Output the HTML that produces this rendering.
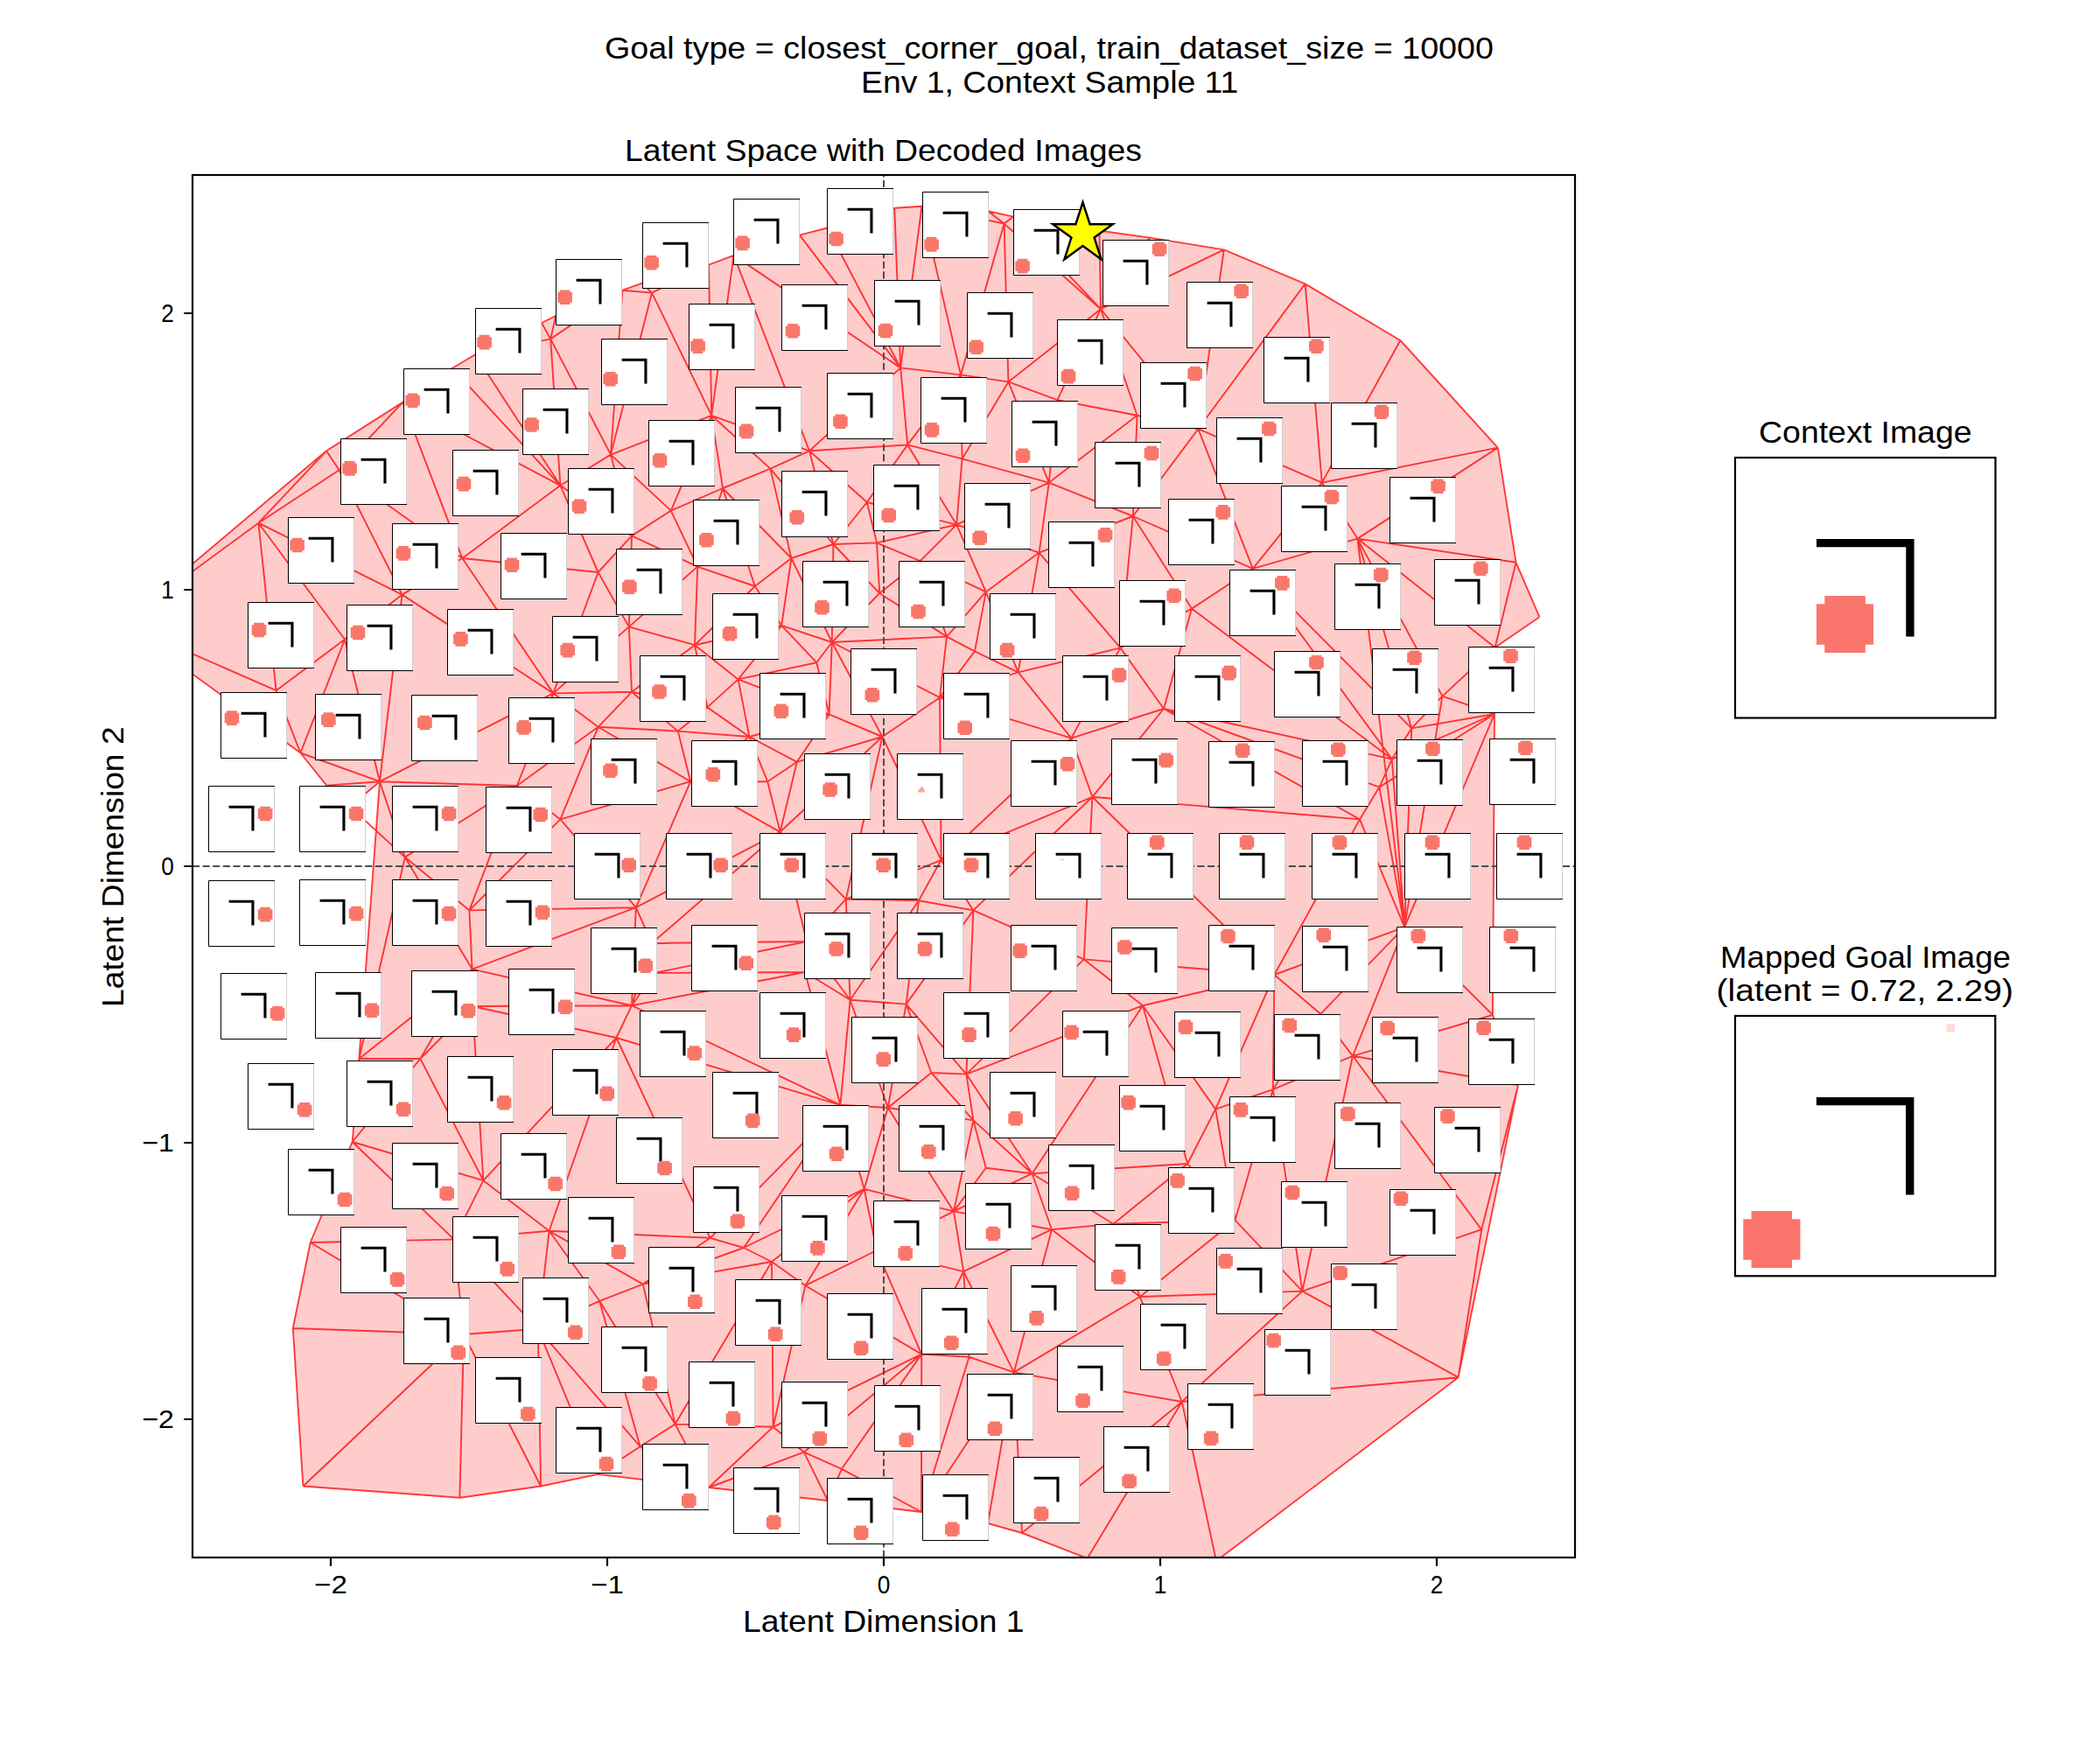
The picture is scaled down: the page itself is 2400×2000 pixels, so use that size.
<!DOCTYPE html><html><head><meta charset="utf-8"><style>html,body{margin:0;padding:0;background:#fff;width:2400px;height:2000px;overflow:hidden}svg{display:block}text{font-family:"Liberation Sans",sans-serif}</style></head><body><svg width="2400" height="2000" viewBox="0 0 2400 2000"><defs><clipPath id="ax"><rect x="220" y="200" width="1580" height="1580"/></clipPath></defs><rect width="2400" height="2000" fill="#fff"/><text x="1199" y="67" font-size="35" text-anchor="middle" textLength="1016" lengthAdjust="spacingAndGlyphs"  >Goal type = closest_corner_goal, train_dataset_size = 10000</text><text x="1199.7" y="105.7" font-size="35" text-anchor="middle" textLength="431.4" lengthAdjust="spacingAndGlyphs"  >Env 1, Context Sample 11</text><text x="1009.5" y="184" font-size="35" text-anchor="middle" textLength="591" lengthAdjust="spacingAndGlyphs"  >Latent Space with Decoded Images</text><g clip-path="url(#ax)"><polygon points="140,712 343.4,860.5 373.2,897.6 400,922 434,893.2 410.4,1210 402.7,1305 354.7,1420 334.8,1518 346.4,1698.5 525.4,1711.7 618.1,1698.5 683.4,1684.9 810,1700 946,1715 1053,1728 1129,1741 1168,1752 1242.6,1781 1390,1784 1666.6,1574.2 1735,1240 1706,1160 1708,816 1708.6,740 1759.4,705.2 1732.6,642.8 1711.8,511.6 1600.4,389 1491.6,324.4 1398.8,285.4 1314,271.6 1256.4,263.6 1158.2,247.6 1129,241.2 1053.5,235.8 1022.3,237.8 945.5,260.5 913.8,268.6 838.6,291.9 810,302.6 734,323.6 711.4,331.7 635.3,360.9 619,369 543,405.2 517,420.8 460.4,459.6 373,515.3" fill="#ffcccc" stroke="none"/><path d="M618.1 1698.5L614.8 1518.8M722 612.4L718.8 716.4M460.4 459.6L528.4 638M1362 695.6L1330 810M1152.4 436.4L1098 428.4M1022.3 237.8L1029.2 420.4M632.4 792.4L683.6 830.8M1509.2 1158.8L1605.2 1059.6M1152.4 436.4L1198.8 551.6M722 612.4L797.2 647.6M966.8 1027.6L922 1076M334.8 1518L346.4 1698.5M810 302.6L734 323.6M1198.8 551.6L1294.8 590M810 302.6L745 334.6M683.6 830.8L722 790.8M1546 1206.8L1454.8 1245.2M1035.6 1147.6L1064.4 1226M734 323.6L711.4 331.7M904.4 638L862.8 670M904.4 638L950.8 734M990.8 574L925 515.3M1064.4 1226L1104.4 1227.6M1248.4 910.8L1238.8 1096.4M946 1715L1053 1728M1248.4 910.8L1330 810M862.8 670L797.2 647.6M877.2 893.2L891.6 950.8M539.6 1107.6L722 1149.2M685.2 1486.8L614.8 1518.8M862.8 670L893.2 714.8M1053.2 1547.6L1107.6 1550.8M1053 1728L1129 1741M1053.2 1547.6L962 1678.8M460.4 459.6L373 515.3M525.4 1711.7L530 1525M722 1149.2L704.4 1186M1014.8 1266L1090 1384.4M1706 1160L1605.2 1059.6M1051.6 641.2L1005.2 678M1112.4 1040.4L1035.6 1147.6M1590.8 867.6L1576.4 899.6M920.4 1469.2L1002 1429M810 302.6L813.2 474.8M1711.8 511.6L1551.4 615.6M1454.8 1245.2L1488.4 1475.6M1005.2 678L1082 727.6M1090 1384.4L1101.2 1453.2M771.6 1627.6L883.6 1630.8M734.8 1467.6L882 1442M698 519.6L766.8 583.6M1706 1160L1708 816M462.8 979.6L539.6 1107.6M856.4 842L947.6 816.4M893.2 714.8L933.2 757.2M1074 797.2L1075.6 982.8M460.4 459.6L640.4 554.8M766.8 583.6L813.2 474.8M1509.2 1158.8L1546 1206.8M1411.6 1394.6L1488.4 1475.6M1198.8 551.6L1299.6 474.8M838.6 291.9L1029.2 420.4M1302.8 1482L1488.4 1475.6M1248.4 910.8L1112.4 1040.4M1306 1149.2L1179.6 1341.2M698 519.6L813.2 474.8M1735 1240L1546 1206.8M402.7 1305L518.8 1416.4M745 1078L922 1076M1029.2 420.4L925 515.3M704.4 1186L552.4 1349.2M1224.4 843.6L1075.6 982.8M1158.8 1568.4L1350.8 1602M1735 1240L1706 1160M1706 1160L1546 1206.8M1147.6 255.6L1152.4 436.4M920 1111L922 1076M774.8 835.6L856.4 842M627.6 1406.8L518.8 1416.4M1035.6 1147.6L1014.8 1266M1082 727.6L1074 797.2M1711.8 511.6L1510.8 551.6M1398.8 285.4L1258 353.2M683.6 654L722 612.4M1029.2 420.4L1098 428.4M640.4 936.4L536.4 1040.4M1090 1384.4L1202 1405.2M1208.4 457.2L1258 353.2M893.2 714.8L843.6 776.4M1272.4 1398.8L1411.6 1394.6M1053.5 235.8L1098 428.4M434 893.2L632.4 792.4M1600.4 389L1491.6 324.4M1093.2 599.6L1187.6 631.6M400 922L462.8 979.6M1258 353.2L1299.6 474.8M1666.6 1574.2L1693.2 1405.2M1411.6 1394.6L1302.8 1482M1224.4 843.6L1330 810M718.8 716.4L722 790.8M590.8 898L640.4 936.4M1491.6 324.4L1398.8 285.4M826 558L797.2 647.6M789.2 893.2L877.2 893.2M722 1149.2L745 1078M627.6 1406.8L734.8 1467.6M373.2 897.6L400 922M627.6 1406.8L811.6 1414.8M971.6 1142.8L960.4 1262.8M843.6 776.4L808.4 808.4M1431.8 649.8L1362 695.6M1168 1752L1158.8 1568.4M734.8 1467.6L685.2 1486.8M1306 1149.2L1389.2 1267.6M400 922L434 893.2M1002 620.4L1093.2 599.6M434 893.2L394 730.8M1053.5 235.8L1022.3 237.8M635.3 360.9L629.2 387.4M966.8 1027.6L1050 1029.2M528.4 638L632.4 792.4M745 1078L748 1112M1551.4 615.6L1613.2 832.4M1022.3 237.8L945.5 260.5M1074 797.2L1224.4 843.6M1050 1029.2L1112.4 1040.4M1126.8 1334.8L1179.6 1341.2M1224.4 843.6L1248.4 910.8M539.6 1107.6L540 1150M1187.6 631.6L1163.6 768.4M920 1111L748 1112M1554 936.4L1605.2 1059.6M810 1700L918.8 1659.6M1179.6 1341.2L1090 1384.4M627.6 1406.8L614.8 1518.8M525.4 1711.7L618.1 1698.5M1037.2 508.4L925 515.3M1369.4 490.2L1431.8 649.8M950.8 734L1074 797.2M1002 620.4L1051.6 641.2M635.3 360.9L619 369M891.6 950.8L966.8 1027.6M1008.4 842L910.8 870.8M960.4 1262.8L1014.8 1266M1202 1405.2L1302.8 1482M1037.2 508.4L1098 428.4M140 712L295.4 597.7M629.2 387.4L698 519.6M459.6 679.6L632.4 792.4M1093.2 599.6L1198.8 551.6M1666.6 1574.2L1488.4 1475.6M1708.6 740L1648.4 795.6M315.6 789.2L295.4 597.7M1708.6 740L1732.6 642.8M880.4 535.6L952.4 622M394 730.8L295.4 597.7M1008.4 842L966.8 1027.6M346.4 1698.5L525.4 1711.7M1280.4 740.4L1362 695.6M1551.4 615.6L1648.4 795.6M1074 797.2L1163.6 768.4M711.4 331.7L635.3 360.9M810 1700L731.6 1653.2M1488.4 1475.6L1350.8 1602M1491.6 324.4L1369.4 490.2M1546 1206.8L1488.4 1475.6M722 1149.2L540 1150M971.6 1142.8L920 1111M797.2 647.6L794 737.2M1158.2 247.6L1258 353.2M1129 1741L1168 1752M1456.4 1114L1605.2 1059.6M731.6 1653.2L614.8 1518.8M966.8 1027.6L971.6 1142.8M1708 816L1576.4 899.6M1280.4 740.4L1294.8 590M1187.6 631.6L1280.4 740.4M530 1525L518.8 1416.4M745 334.6L698 519.6M590.8 898L683.6 830.8M1082 727.6L950.8 734M952.4 622L950.8 734M1708 816L1708.6 740M950.8 734L893.2 714.8M947.6 816.4L1008.4 842M918.8 1659.6L962 1678.8M1708.6 740L1759.4 705.2M334.8 1518L530 1525M1008.4 842L1074 797.2M945.5 260.5L1029.2 420.4M1390 1784L1350.8 1602M1107.6 1550.8L1158.8 1568.4M1187.6 631.6L1294.8 590M1299.6 474.8L1294.8 590M882 1442L771.6 1627.6M722 1149.2L960.4 1262.8M1238.8 1096.4L1306 1149.2M1398.8 285.4L1314 271.6M1126.8 676.4L1082 727.6M1294.8 590L1369.4 490.2M480.4 1210L540 1150M987.6 1358.8L882 1442M1488.4 1475.6L1693.2 1405.2M640.4 554.8L722 612.4M1576.4 899.6L1554 936.4M1314 271.6L1256.4 263.6M910.8 870.8L891.6 950.8M528.4 638L459.6 679.6M543 405.2L640.4 554.8M883.6 1630.8L918.8 1659.6M1129 241.2L1147.6 255.6M618.1 1698.5L530 1525M410.4 1210L402.7 1305M1112.4 1280.4L1090 1384.4M1708 816L1590.8 867.6M990.8 574L1002 620.4M1708 816L1605.2 1059.6M683.4 1684.9L614.8 1518.8M1546 1206.8L1605.2 1059.6M952.4 622L904.4 638M813.2 474.8L826 558M410.4 1210L480.4 1210M946 1715L962 1678.8M734 323.6L745 334.6M536.4 1040.4L539.6 1107.6M1053 1728L1158.8 1568.4M343.4 860.5L434 893.2M877.2 893.2L910.8 870.8M952.4 622L925 515.3M1053.2 1547.6L918.8 1659.6M794 737.2L722 790.8M794 737.2L843.6 776.4M891.6 950.8L745 1078M1708 816L1613.2 832.4M1075.6 982.8L1112.4 1040.4M990.8 574L1093.2 599.6M813.2 474.8L880.4 535.6M683.6 830.8L774.8 835.6M459.6 679.6L295.4 597.7M987.6 1358.8L920.4 1469.2M434 893.2L410.4 1210M640.4 554.8L683.6 654M1064.4 1226L1112.4 1280.4M354.7 1420L518.8 1416.4M552.4 1349.2L518.8 1416.4M1248.4 910.8L1554 936.4M945.5 260.5L913.8 268.6M856.4 842L910.8 870.8M813.2 474.8L925 515.3M460.4 459.6L387.6 537.2M990.8 574L952.4 622M726.8 1037.2L745 1078M1357.2 1330L1411.6 1394.6M722 1149.2L920 1111M618.1 1698.5L683.4 1684.9M1600.4 389L1510.8 551.6M1590.8 867.6L1613.2 832.4M946 1715L918.8 1659.6M619 369L543 405.2M1090 1384.4L1002 1429M1053 1728L1107.6 1550.8M734.8 1467.6L771.6 1627.6M1431.8 649.8L1590.8 867.6M1306 1149.2L1357.2 1330M971.6 1142.8L922 1076M685.2 1486.8L731.6 1653.2M434 893.2L462.8 979.6M1053.2 1547.6L883.6 1630.8M1735 1240L1693.2 1405.2M722 612.4L766.8 583.6M1242.6 1781L1390 1784M748 1112L922 1076M1075.6 982.8L1050 1029.2M766.8 583.6L797.2 647.6M882 1442L850 1426M480.4 1210L552.4 1349.2M1112.4 1040.4L1238.8 1096.4M410.4 1210L462.8 979.6M1454.8 1245.2L1411.6 1394.6M1090 1384.4L987.6 1358.8M619 369L629.2 387.4M640.4 936.4L789.2 893.2M1064.4 1226L1014.8 1266M1101.2 1453.2L1158.8 1568.4M1314 271.6L1258 353.2M1101.2 1453.2L1002 1429M462.8 979.6L536.4 1040.4M683.6 654L632.4 792.4M1431.8 649.8L1613.2 832.4M539.6 1107.6L480.4 1210M856.4 842L877.2 893.2M373 515.3L295.4 597.7M434 893.2L590.8 898M1053.2 1547.6L920.4 1469.2M960.4 1262.8L987.6 1358.8M960.4 1262.8L811.6 1414.8M1014.8 1266L1112.4 1280.4M1330 810L1554 936.4M1114 744.4L1163.6 768.4M1198.8 551.6L1187.6 631.6M826 558L862.8 670M1198.8 551.6L1208.4 457.2M1112.4 1040.4L1104.4 1227.6M920.4 1469.2L882 1442M1510.8 551.6L1431.8 649.8M1147.6 255.6L1258 353.2M1398.8 285.4L1369.4 490.2M843.6 776.4L933.2 757.2M140 712L315.6 789.2M698 519.6L640.4 554.8M734.8 1467.6L811.6 1414.8M1648.4 795.6L1613.2 832.4M1099.6 524.4L1098 428.4M1053.5 235.8L1029.2 420.4M1099.6 524.4L1198.8 551.6M343.4 860.5L315.6 789.2M632.4 792.4L722 790.8M1509.2 1158.8L1454.8 1245.2M810 1700L883.6 1630.8M920.4 1469.2L883.6 1630.8M1126.8 676.4L1163.6 768.4M774.8 835.6L789.2 893.2M1035.6 1147.6L1104.4 1227.6M394 730.8L315.6 789.2M1179.6 1341.2L1272.4 1398.8M843.6 776.4L947.6 816.4M1759.4 705.2L1732.6 642.8M904.4 638L893.2 714.8M950.8 734L1008.4 842M1101.2 1453.2L1107.6 1550.8M402.7 1305L552.4 1349.2M1168 1752L1242.6 1781M1037.2 508.4L1093.2 599.6M838.6 291.9L925 515.3M960.4 1262.8L850 1426M1050 1029.2L1035.6 1147.6M1330 810L1576.4 899.6M704.4 1186L811.6 1414.8M718.8 716.4L632.4 792.4M1732.6 642.8L1551.4 615.6M826 558L904.4 638M1051.6 641.2L1082 727.6M683.6 654L718.8 716.4M950.8 734L933.2 757.2M434 893.2L459.6 679.6M1168 1752L1350.8 1602M734.8 1467.6L850 1426M893.2 714.8L794 737.2M1008.4 842L1075.6 982.8M1053.5 235.8L1147.6 255.6M1093.2 599.6L1051.6 641.2M1074 797.2L1114 744.4M1258 353.2L1369.4 490.2M718.8 716.4L794 737.2M1158.8 1568.4L1302.8 1482M1280.4 740.4L1330 810M590.8 898L536.4 1040.4M711.4 331.7L698 519.6M1454.8 1245.2L1389.2 1267.6M810 1700L771.6 1627.6M789.2 893.2L891.6 950.8M1126.8 676.4L1114 744.4M1369.4 490.2L1510.8 551.6M1179.6 1341.2L1357.2 1330M1104.4 1227.6L1179.6 1341.2M838.6 291.9L813.2 474.8M1029.2 420.4L1037.2 508.4M843.6 776.4L856.4 842M346.4 1698.5L530 1525M1256.4 263.6L1158.2 247.6M950.8 734L947.6 816.4M1101.2 1453.2L1053.2 1547.6M698 519.6L722 612.4M726.8 1037.2L789.2 893.2M1202 1405.2L1272.4 1398.8M1037.2 508.4L1099.6 524.4M704.4 1186L960.4 1262.8M530 1525L614.8 1518.8M704.4 1186L627.6 1406.8M402.7 1305L354.7 1420M1050 1029.2L971.6 1142.8M1330 810L1590.8 867.6M590.8 898L632.4 792.4M1294.8 590L1362 695.6M1147.6 255.6L1098 428.4M722 790.8L774.8 835.6M838.6 291.9L810 302.6M1179.6 1341.2L1202 1405.2M1082 727.6L1114 744.4M971.6 1142.8L1035.6 1147.6M640.4 936.4L726.8 1037.2M528.4 638L387.6 537.2M880.4 535.6L826 558M726.8 1037.2L722 1149.2M1202 1405.2L1101.2 1453.2M1208.4 457.2L1299.6 474.8M960.4 1262.8L920 1111M343.4 860.5L394 730.8M1272.4 1398.8L1302.8 1482M1037.2 508.4L990.8 574M1093.2 599.6L1126.8 676.4M913.8 268.6L1029.2 420.4M718.8 716.4L797.2 647.6M1238.8 1096.4L1456.4 1114M1280.4 740.4L1224.4 843.6M1666.6 1574.2L1350.8 1602M590.8 898L462.8 979.6M711.4 331.7L745 334.6M745 334.6L813.2 474.8M1129 1741L1158.8 1568.4M627.6 1406.8L685.2 1486.8M722 1149.2L748 1112M373.2 897.6L434 893.2M808.4 808.4L856.4 842M971.6 1142.8L1014.8 1266M459.6 679.6L387.6 537.2M1456.4 1114L1509.2 1158.8M880.4 535.6L904.4 638M913.8 268.6L838.6 291.9M1112.4 1280.4L1179.6 1341.2M517 420.8L640.4 554.8M1126.8 1334.8L1090 1384.4M952.4 622L1002 620.4M880.4 535.6L925 515.3M952.4 622L1005.2 678M1294.8 590L1431.8 649.8M140 712L373 515.3M683.4 1684.9L810 1700M1104.4 1227.6L1112.4 1280.4M722 790.8L808.4 808.4M1389.2 1267.6L1411.6 1394.6M1104.4 1227.6L1306 1149.2M536.4 1040.4L726.8 1037.2M402.7 1305L480.4 1210M1053 1728L962 1678.8M947.6 816.4L910.8 870.8M810 1700L946 1715M543 405.2L517 420.8M726.8 1037.2L539.6 1107.6M552.4 1349.2L540 1150M1002 620.4L1005.2 678M1456.4 1114L1389.2 1267.6M1008.4 842L891.6 950.8M726.8 1037.2L891.6 950.8M517 420.8L460.4 459.6M1187.6 631.6L1126.8 676.4M1708 816L1648.4 795.6M1152.4 436.4L1258 353.2M629.2 387.4L640.4 554.8M1390 1784L1666.6 1574.2M1280.4 740.4L1163.6 768.4M1126.8 676.4L1051.6 641.2M711.4 331.7L629.2 387.4M683.6 830.8L789.2 893.2M850 1426L811.6 1414.8M1666.6 1574.2L1735 1240M1554 936.4L1456.4 1114M640.4 554.8L528.4 638M987.6 1358.8L1002 1429M1576.4 899.6L1605.2 1059.6M808.4 808.4L774.8 835.6M528.4 638L683.6 654M1456.4 1114L1306 1149.2M1202 1405.2L1158.8 1568.4M1732.6 642.8L1711.8 511.6M1112.4 1280.4L1126.8 1334.8M731.6 1653.2L771.6 1627.6M683.4 1684.9L731.6 1653.2M1357.2 1330L1272.4 1398.8M1711.8 511.6L1600.4 389M373 515.3L387.6 537.2M1163.6 768.4L1224.4 843.6M1546 1206.8L1693.2 1405.2M1491.6 324.4L1510.8 551.6M1053 1728L1053.2 1547.6M552.4 1349.2L627.6 1406.8M343.4 860.5L373.2 897.6M1248.4 910.8L1456.4 1114M1551.4 615.6L1431.8 649.8M685.2 1486.8L771.6 1627.6M1456.4 1114L1454.8 1245.2M1362 695.6L1590.8 867.6M1075.6 982.8L966.8 1027.6M1152.4 436.4L1208.4 457.2M1238.8 1096.4L1104.4 1227.6M683.6 830.8L640.4 936.4M1302.8 1482L1350.8 1602M354.7 1420L530 1525M1242.6 1781L1350.8 1602M543 405.2L629.2 387.4M856.4 842L789.2 893.2M862.8 670L794 737.2M459.6 679.6L394 730.8M1256.4 263.6L1258 353.2M1053.2 1547.6L1002 1429M794 737.2L808.4 808.4M1708.6 740L1551.4 615.6M387.6 537.2L295.4 597.7M766.8 583.6L826 558M891.6 950.8L922 1076M1014.8 1266L987.6 1358.8M1299.6 474.8L1369.4 490.2M140 712L343.4 860.5M882 1442L883.6 1630.8M704.4 1186L540 1150M1510.8 551.6L1551.4 615.6M933.2 757.2L947.6 816.4M410.4 1210L539.6 1107.6M1158.2 247.6L1129 241.2M1005.2 678L950.8 734M987.6 1358.8L850 1426M1389.2 1267.6L1357.2 1330M1248.4 910.8L1075.6 982.8M1158.2 247.6L1147.6 255.6M1129 241.2L1053.5 235.8M1099.6 524.4L1152.4 436.4M1099.6 524.4L1093.2 599.6M614.8 1518.8L518.8 1416.4M354.7 1420L334.8 1518M1605.2 1059.6L1648.4 795.6M1605.2 1059.6L1613.2 832.4M1605.2 1059.6L1551.4 615.6M1605.2 1059.6L1576.4 899.6M1605.2 1059.6L1590.8 867.6M1605.2 1059.6L1554 936.4" stroke="#ff0000" stroke-opacity="0.75" stroke-width="1.9" stroke-linejoin="round" fill="none"/><path d="M220 990H1800" stroke="#4d4d4d" stroke-width="2" stroke-dasharray="8.1 3.5" fill="none"/><path d="M1010 1780V200" stroke="#4d4d4d" stroke-width="2" stroke-dasharray="8.1 3.5" fill="none"/><g transform="translate(734 254)"><rect x="0" y="0" width="76" height="76" fill="#fff"/><path d="M76 0.5H0.5V75.5H76" fill="none" stroke="#000" stroke-width="1"/><path d="M75.5 1V75" stroke="#d0d0d0" stroke-width="1"/><path d="M23.6 22.8H52.5V51.6H49.4V25.8H23.6z" fill="#000"/><path d="M4.7 37.9h11.8v2.4h2.4v11.8h-2.4v2.4h-11.8v-2.4h-2.4v-11.8h2.4z" fill="#f9776a"/></g><g transform="translate(635 296)"><rect x="0" y="0" width="76" height="76" fill="#fff"/><path d="M76 0.5H0.5V75.5H76" fill="none" stroke="#000" stroke-width="1"/><path d="M75.5 1V75" stroke="#d0d0d0" stroke-width="1"/><path d="M23.6 22.8H52.5V51.6H49.4V25.8H23.6z" fill="#000"/><path d="M4.7 35.5h11.8v2.4h2.4v11.8h-2.4v2.4h-11.8v-2.4h-2.4v-11.8h2.4z" fill="#f9776a"/></g><g transform="translate(543 352)"><rect x="0" y="0" width="76" height="76" fill="#fff"/><path d="M76 0.5H0.5V75.5H76" fill="none" stroke="#000" stroke-width="1"/><path d="M75.5 1V75" stroke="#d0d0d0" stroke-width="1"/><path d="M23.6 22.8H52.5V51.6H49.4V25.8H23.6z" fill="#000"/><path d="M4.7 30.8h11.8v2.4h2.4v11.8h-2.4v2.4h-11.8v-2.4h-2.4v-11.8h2.4z" fill="#f9776a"/></g><g transform="translate(461 421)"><rect x="0" y="0" width="76" height="76" fill="#fff"/><path d="M76 0.5H0.5V75.5H76" fill="none" stroke="#000" stroke-width="1"/><path d="M75.5 1V75" stroke="#d0d0d0" stroke-width="1"/><path d="M23.6 22.8H52.5V51.6H49.4V25.8H23.6z" fill="#000"/><path d="M4.7 28.4h11.8v2.4h2.4v11.8h-2.4v2.4h-11.8v-2.4h-2.4v-11.8h2.4z" fill="#f9776a"/></g><g transform="translate(389 501)"><rect x="0" y="0" width="76" height="76" fill="#fff"/><path d="M76 0.5H0.5V75.5H76" fill="none" stroke="#000" stroke-width="1"/><path d="M75.5 1V75" stroke="#d0d0d0" stroke-width="1"/><path d="M23.6 22.8H52.5V51.6H49.4V25.8H23.6z" fill="#000"/><path d="M4.7 26.1h11.8v2.4h2.4v11.8h-2.4v2.4h-11.8v-2.4h-2.4v-11.8h2.4z" fill="#f9776a"/></g><g transform="translate(329 591)"><rect x="0" y="0" width="76" height="76" fill="#fff"/><path d="M76 0.5H0.5V75.5H76" fill="none" stroke="#000" stroke-width="1"/><path d="M75.5 1V75" stroke="#d0d0d0" stroke-width="1"/><path d="M23.6 22.8H52.5V51.6H49.4V25.8H23.6z" fill="#000"/><path d="M4.7 23.7h11.8v2.4h2.4v11.8h-2.4v2.4h-11.8v-2.4h-2.4v-11.8h2.4z" fill="#f9776a"/></g><g transform="translate(283 688)"><rect x="0" y="0" width="76" height="76" fill="#fff"/><path d="M76 0.5H0.5V75.5H76" fill="none" stroke="#000" stroke-width="1"/><path d="M75.5 1V75" stroke="#d0d0d0" stroke-width="1"/><path d="M23.6 22.8H52.5V51.6H49.4V25.8H23.6z" fill="#000"/><path d="M7.1 23.7h11.8v2.4h2.4v11.8h-2.4v2.4h-11.8v-2.4h-2.4v-11.8h2.4z" fill="#f9776a"/></g><g transform="translate(396 691)"><rect x="0" y="0" width="76" height="76" fill="#fff"/><path d="M76 0.5H0.5V75.5H76" fill="none" stroke="#000" stroke-width="1"/><path d="M75.5 1V75" stroke="#d0d0d0" stroke-width="1"/><path d="M23.6 22.8H52.5V51.6H49.4V25.8H23.6z" fill="#000"/><path d="M7.1 23.7h11.8v2.4h2.4v11.8h-2.4v2.4h-11.8v-2.4h-2.4v-11.8h2.4z" fill="#f9776a"/></g><g transform="translate(448 598)"><rect x="0" y="0" width="76" height="76" fill="#fff"/><path d="M76 0.5H0.5V75.5H76" fill="none" stroke="#000" stroke-width="1"/><path d="M75.5 1V75" stroke="#d0d0d0" stroke-width="1"/><path d="M23.6 22.8H52.5V51.6H49.4V25.8H23.6z" fill="#000"/><path d="M7.1 26.1h11.8v2.4h2.4v11.8h-2.4v2.4h-11.8v-2.4h-2.4v-11.8h2.4z" fill="#f9776a"/></g><g transform="translate(517 514)"><rect x="0" y="0" width="76" height="76" fill="#fff"/><path d="M76 0.5H0.5V75.5H76" fill="none" stroke="#000" stroke-width="1"/><path d="M75.5 1V75" stroke="#d0d0d0" stroke-width="1"/><path d="M23.6 22.8H52.5V51.6H49.4V25.8H23.6z" fill="#000"/><path d="M7.1 30.8h11.8v2.4h2.4v11.8h-2.4v2.4h-11.8v-2.4h-2.4v-11.8h2.4z" fill="#f9776a"/></g><g transform="translate(597 444)"><rect x="0" y="0" width="76" height="76" fill="#fff"/><path d="M76 0.5H0.5V75.5H76" fill="none" stroke="#000" stroke-width="1"/><path d="M75.5 1V75" stroke="#d0d0d0" stroke-width="1"/><path d="M23.6 22.8H52.5V51.6H49.4V25.8H23.6z" fill="#000"/><path d="M4.7 33.2h11.8v2.4h2.4v11.8h-2.4v2.4h-11.8v-2.4h-2.4v-11.8h2.4z" fill="#f9776a"/></g><g transform="translate(687 387)"><rect x="0" y="0" width="76" height="76" fill="#fff"/><path d="M76 0.5H0.5V75.5H76" fill="none" stroke="#000" stroke-width="1"/><path d="M75.5 1V75" stroke="#d0d0d0" stroke-width="1"/><path d="M23.6 22.8H52.5V51.6H49.4V25.8H23.6z" fill="#000"/><path d="M4.7 37.9h11.8v2.4h2.4v11.8h-2.4v2.4h-11.8v-2.4h-2.4v-11.8h2.4z" fill="#f9776a"/></g><g transform="translate(741 480)"><rect x="0" y="0" width="76" height="76" fill="#fff"/><path d="M76 0.5H0.5V75.5H76" fill="none" stroke="#000" stroke-width="1"/><path d="M75.5 1V75" stroke="#d0d0d0" stroke-width="1"/><path d="M23.6 22.8H52.5V51.6H49.4V25.8H23.6z" fill="#000"/><path d="M7.1 37.9h11.8v2.4h2.4v11.8h-2.4v2.4h-11.8v-2.4h-2.4v-11.8h2.4z" fill="#f9776a"/></g><g transform="translate(649 535)"><rect x="0" y="0" width="76" height="76" fill="#fff"/><path d="M76 0.5H0.5V75.5H76" fill="none" stroke="#000" stroke-width="1"/><path d="M75.5 1V75" stroke="#d0d0d0" stroke-width="1"/><path d="M23.6 22.8H52.5V51.6H49.4V25.8H23.6z" fill="#000"/><path d="M7.1 35.5h11.8v2.4h2.4v11.8h-2.4v2.4h-11.8v-2.4h-2.4v-11.8h2.4z" fill="#f9776a"/></g><g transform="translate(572 609)"><rect x="0" y="0" width="76" height="76" fill="#fff"/><path d="M76 0.5H0.5V75.5H76" fill="none" stroke="#000" stroke-width="1"/><path d="M75.5 1V75" stroke="#d0d0d0" stroke-width="1"/><path d="M23.6 22.8H52.5V51.6H49.4V25.8H23.6z" fill="#000"/><path d="M7.1 28.4h11.8v2.4h2.4v11.8h-2.4v2.4h-11.8v-2.4h-2.4v-11.8h2.4z" fill="#f9776a"/></g><g transform="translate(511 696)"><rect x="0" y="0" width="76" height="76" fill="#fff"/><path d="M76 0.5H0.5V75.5H76" fill="none" stroke="#000" stroke-width="1"/><path d="M75.5 1V75" stroke="#d0d0d0" stroke-width="1"/><path d="M23.6 22.8H52.5V51.6H49.4V25.8H23.6z" fill="#000"/><path d="M9.5 26.1h11.8v2.4h2.4v11.8h-2.4v2.4h-11.8v-2.4h-2.4v-11.8h2.4z" fill="#f9776a"/></g><g transform="translate(631 704)"><rect x="0" y="0" width="76" height="76" fill="#fff"/><path d="M76 0.5H0.5V75.5H76" fill="none" stroke="#000" stroke-width="1"/><path d="M75.5 1V75" stroke="#d0d0d0" stroke-width="1"/><path d="M23.6 22.8H52.5V51.6H49.4V25.8H23.6z" fill="#000"/><path d="M11.8 30.8h11.8v2.4h2.4v11.8h-2.4v2.4h-11.8v-2.4h-2.4v-11.8h2.4z" fill="#f9776a"/></g><g transform="translate(704 627)"><rect x="0" y="0" width="76" height="76" fill="#fff"/><path d="M76 0.5H0.5V75.5H76" fill="none" stroke="#000" stroke-width="1"/><path d="M75.5 1V75" stroke="#d0d0d0" stroke-width="1"/><path d="M23.6 22.8H52.5V51.6H49.4V25.8H23.6z" fill="#000"/><path d="M9.5 35.5h11.8v2.4h2.4v11.8h-2.4v2.4h-11.8v-2.4h-2.4v-11.8h2.4z" fill="#f9776a"/></g><g transform="translate(838 227)"><rect x="0" y="0" width="76" height="76" fill="#fff"/><path d="M76 0.5H0.5V75.5H76" fill="none" stroke="#000" stroke-width="1"/><path d="M75.5 1V75" stroke="#d0d0d0" stroke-width="1"/><path d="M23.6 22.8H52.5V51.6H49.4V25.8H23.6z" fill="#000"/><path d="M4.7 42.6h11.8v2.4h2.4v11.8h-2.4v2.4h-11.8v-2.4h-2.4v-11.8h2.4z" fill="#f9776a"/></g><g transform="translate(945 215)"><rect x="0" y="0" width="76" height="76" fill="#fff"/><path d="M76 0.5H0.5V75.5H76" fill="none" stroke="#000" stroke-width="1"/><path d="M75.5 1V75" stroke="#d0d0d0" stroke-width="1"/><path d="M23.6 22.8H52.5V51.6H49.4V25.8H23.6z" fill="#000"/><path d="M4.7 49.7h11.8v2.4h2.4v11.8h-2.4v2.4h-11.8v-2.4h-2.4v-11.8h2.4z" fill="#f9776a"/></g><g transform="translate(1054 219)"><rect x="0" y="0" width="76" height="76" fill="#fff"/><path d="M76 0.5H0.5V75.5H76" fill="none" stroke="#000" stroke-width="1"/><path d="M75.5 1V75" stroke="#d0d0d0" stroke-width="1"/><path d="M23.6 22.8H52.5V51.6H49.4V25.8H23.6z" fill="#000"/><path d="M4.7 52.1h11.8v2.4h2.4v11.8h-2.4v2.4h-11.8v-2.4h-2.4v-11.8h2.4z" fill="#f9776a"/></g><g transform="translate(1158 239)"><rect x="0" y="0" width="76" height="76" fill="#fff"/><path d="M76 0.5H0.5V75.5H76" fill="none" stroke="#000" stroke-width="1"/><path d="M75.5 1V75" stroke="#d0d0d0" stroke-width="1"/><path d="M23.6 22.8H52.5V51.6H49.4V25.8H23.6z" fill="#000"/><path d="M4.7 56.8h11.8v2.4h2.4v11.8h-2.4v2.4h-11.8v-2.4h-2.4v-11.8h2.4z" fill="#f9776a"/></g><g transform="translate(787 347)"><rect x="0" y="0" width="76" height="76" fill="#fff"/><path d="M76 0.5H0.5V75.5H76" fill="none" stroke="#000" stroke-width="1"/><path d="M75.5 1V75" stroke="#d0d0d0" stroke-width="1"/><path d="M23.6 22.8H52.5V51.6H49.4V25.8H23.6z" fill="#000"/><path d="M4.7 40.3h11.8v2.4h2.4v11.8h-2.4v2.4h-11.8v-2.4h-2.4v-11.8h2.4z" fill="#f9776a"/></g><g transform="translate(893 325)"><rect x="0" y="0" width="76" height="76" fill="#fff"/><path d="M76 0.5H0.5V75.5H76" fill="none" stroke="#000" stroke-width="1"/><path d="M75.5 1V75" stroke="#d0d0d0" stroke-width="1"/><path d="M23.6 22.8H52.5V51.6H49.4V25.8H23.6z" fill="#000"/><path d="M7.1 45h11.8v2.4h2.4v11.8h-2.4v2.4h-11.8v-2.4h-2.4v-11.8h2.4z" fill="#f9776a"/></g><g transform="translate(999 320)"><rect x="0" y="0" width="76" height="76" fill="#fff"/><path d="M76 0.5H0.5V75.5H76" fill="none" stroke="#000" stroke-width="1"/><path d="M75.5 1V75" stroke="#d0d0d0" stroke-width="1"/><path d="M23.6 22.8H52.5V51.6H49.4V25.8H23.6z" fill="#000"/><path d="M7.1 49.7h11.8v2.4h2.4v11.8h-2.4v2.4h-11.8v-2.4h-2.4v-11.8h2.4z" fill="#f9776a"/></g><g transform="translate(1105 334)"><rect x="0" y="0" width="76" height="76" fill="#fff"/><path d="M76 0.5H0.5V75.5H76" fill="none" stroke="#000" stroke-width="1"/><path d="M75.5 1V75" stroke="#d0d0d0" stroke-width="1"/><path d="M23.6 22.8H52.5V51.6H49.4V25.8H23.6z" fill="#000"/><path d="M4.7 54.5h11.8v2.4h2.4v11.8h-2.4v2.4h-11.8v-2.4h-2.4v-11.8h2.4z" fill="#f9776a"/></g><g transform="translate(1208 365)"><rect x="0" y="0" width="76" height="76" fill="#fff"/><path d="M76 0.5H0.5V75.5H76" fill="none" stroke="#000" stroke-width="1"/><path d="M75.5 1V75" stroke="#d0d0d0" stroke-width="1"/><path d="M23.6 22.8H52.5V51.6H49.4V25.8H23.6z" fill="#000"/><path d="M7.1 56.8h11.8v2.4h2.4v11.8h-2.4v2.4h-11.8v-2.4h-2.4v-11.8h2.4z" fill="#f9776a"/></g><g transform="translate(840 442)"><rect x="0" y="0" width="76" height="76" fill="#fff"/><path d="M76 0.5H0.5V75.5H76" fill="none" stroke="#000" stroke-width="1"/><path d="M75.5 1V75" stroke="#d0d0d0" stroke-width="1"/><path d="M23.6 22.8H52.5V51.6H49.4V25.8H23.6z" fill="#000"/><path d="M7.1 42.6h11.8v2.4h2.4v11.8h-2.4v2.4h-11.8v-2.4h-2.4v-11.8h2.4z" fill="#f9776a"/></g><g transform="translate(945 426)"><rect x="0" y="0" width="76" height="76" fill="#fff"/><path d="M76 0.5H0.5V75.5H76" fill="none" stroke="#000" stroke-width="1"/><path d="M75.5 1V75" stroke="#d0d0d0" stroke-width="1"/><path d="M23.6 22.8H52.5V51.6H49.4V25.8H23.6z" fill="#000"/><path d="M9.5 47.4h11.8v2.4h2.4v11.8h-2.4v2.4h-11.8v-2.4h-2.4v-11.8h2.4z" fill="#f9776a"/></g><g transform="translate(1052 431)"><rect x="0" y="0" width="76" height="76" fill="#fff"/><path d="M76 0.5H0.5V75.5H76" fill="none" stroke="#000" stroke-width="1"/><path d="M75.5 1V75" stroke="#d0d0d0" stroke-width="1"/><path d="M23.6 22.8H52.5V51.6H49.4V25.8H23.6z" fill="#000"/><path d="M7.1 52.1h11.8v2.4h2.4v11.8h-2.4v2.4h-11.8v-2.4h-2.4v-11.8h2.4z" fill="#f9776a"/></g><g transform="translate(1156 458)"><rect x="0" y="0" width="76" height="76" fill="#fff"/><path d="M76 0.5H0.5V75.5H76" fill="none" stroke="#000" stroke-width="1"/><path d="M75.5 1V75" stroke="#d0d0d0" stroke-width="1"/><path d="M23.6 22.8H52.5V51.6H49.4V25.8H23.6z" fill="#000"/><path d="M7.1 54.5h11.8v2.4h2.4v11.8h-2.4v2.4h-11.8v-2.4h-2.4v-11.8h2.4z" fill="#f9776a"/></g><g transform="translate(792 571)"><rect x="0" y="0" width="76" height="76" fill="#fff"/><path d="M76 0.5H0.5V75.5H76" fill="none" stroke="#000" stroke-width="1"/><path d="M75.5 1V75" stroke="#d0d0d0" stroke-width="1"/><path d="M23.6 22.8H52.5V51.6H49.4V25.8H23.6z" fill="#000"/><path d="M9.5 37.9h11.8v2.4h2.4v11.8h-2.4v2.4h-11.8v-2.4h-2.4v-11.8h2.4z" fill="#f9776a"/></g><g transform="translate(893 538)"><rect x="0" y="0" width="76" height="76" fill="#fff"/><path d="M76 0.5H0.5V75.5H76" fill="none" stroke="#000" stroke-width="1"/><path d="M75.5 1V75" stroke="#d0d0d0" stroke-width="1"/><path d="M23.6 22.8H52.5V51.6H49.4V25.8H23.6z" fill="#000"/><path d="M11.8 45h11.8v2.4h2.4v11.8h-2.4v2.4h-11.8v-2.4h-2.4v-11.8h2.4z" fill="#f9776a"/></g><g transform="translate(998 531)"><rect x="0" y="0" width="76" height="76" fill="#fff"/><path d="M76 0.5H0.5V75.5H76" fill="none" stroke="#000" stroke-width="1"/><path d="M75.5 1V75" stroke="#d0d0d0" stroke-width="1"/><path d="M23.6 22.8H52.5V51.6H49.4V25.8H23.6z" fill="#000"/><path d="M11.8 49.7h11.8v2.4h2.4v11.8h-2.4v2.4h-11.8v-2.4h-2.4v-11.8h2.4z" fill="#f9776a"/></g><g transform="translate(1102 552)"><rect x="0" y="0" width="76" height="76" fill="#fff"/><path d="M76 0.5H0.5V75.5H76" fill="none" stroke="#000" stroke-width="1"/><path d="M75.5 1V75" stroke="#d0d0d0" stroke-width="1"/><path d="M23.6 22.8H52.5V51.6H49.4V25.8H23.6z" fill="#000"/><path d="M11.8 54.5h11.8v2.4h2.4v11.8h-2.4v2.4h-11.8v-2.4h-2.4v-11.8h2.4z" fill="#f9776a"/></g><g transform="translate(1198 596)"><rect x="0" y="0" width="76" height="76" fill="#fff"/><path d="M76 0.5H0.5V75.5H76" fill="none" stroke="#000" stroke-width="1"/><path d="M75.5 1V75" stroke="#d0d0d0" stroke-width="1"/><path d="M23.6 22.8H52.5V51.6H49.4V25.8H23.6z" fill="#000"/><path d="M59.2 7.1h11.8v2.4h2.4v11.8h-2.4v2.4h-11.8v-2.4h-2.4v-11.8h2.4z" fill="#f9776a"/></g><g transform="translate(814 678)"><rect x="0" y="0" width="76" height="76" fill="#fff"/><path d="M76 0.5H0.5V75.5H76" fill="none" stroke="#000" stroke-width="1"/><path d="M75.5 1V75" stroke="#d0d0d0" stroke-width="1"/><path d="M23.6 22.8H52.5V51.6H49.4V25.8H23.6z" fill="#000"/><path d="M14.2 37.9h11.8v2.4h2.4v11.8h-2.4v2.4h-11.8v-2.4h-2.4v-11.8h2.4z" fill="#f9776a"/></g><g transform="translate(917 641)"><rect x="0" y="0" width="76" height="76" fill="#fff"/><path d="M76 0.5H0.5V75.5H76" fill="none" stroke="#000" stroke-width="1"/><path d="M75.5 1V75" stroke="#d0d0d0" stroke-width="1"/><path d="M23.6 22.8H52.5V51.6H49.4V25.8H23.6z" fill="#000"/><path d="M16.6 45h11.8v2.4h2.4v11.8h-2.4v2.4h-11.8v-2.4h-2.4v-11.8h2.4z" fill="#f9776a"/></g><g transform="translate(1027 641)"><rect x="0" y="0" width="76" height="76" fill="#fff"/><path d="M76 0.5H0.5V75.5H76" fill="none" stroke="#000" stroke-width="1"/><path d="M75.5 1V75" stroke="#d0d0d0" stroke-width="1"/><path d="M23.6 22.8H52.5V51.6H49.4V25.8H23.6z" fill="#000"/><path d="M16.6 49.7h11.8v2.4h2.4v11.8h-2.4v2.4h-11.8v-2.4h-2.4v-11.8h2.4z" fill="#f9776a"/></g><g transform="translate(1131 678)"><rect x="0" y="0" width="76" height="76" fill="#fff"/><path d="M76 0.5H0.5V75.5H76" fill="none" stroke="#000" stroke-width="1"/><path d="M75.5 1V75" stroke="#d0d0d0" stroke-width="1"/><path d="M23.6 22.8H52.5V51.6H49.4V25.8H23.6z" fill="#000"/><path d="M14.2 56.8h11.8v2.4h2.4v11.8h-2.4v2.4h-11.8v-2.4h-2.4v-11.8h2.4z" fill="#f9776a"/></g><g transform="translate(1260 274)"><rect x="0" y="0" width="76" height="76" fill="#fff"/><path d="M76 0.5H0.5V75.5H76" fill="none" stroke="#000" stroke-width="1"/><path d="M75.5 1V75" stroke="#d0d0d0" stroke-width="1"/><path d="M23.6 22.8H52.5V51.6H49.4V25.8H23.6z" fill="#000"/><path d="M59.2 2.4h11.8v2.4h2.4v11.8h-2.4v2.4h-11.8v-2.4h-2.4v-11.8h2.4z" fill="#f9776a"/></g><g transform="translate(1356 322)"><rect x="0" y="0" width="76" height="76" fill="#fff"/><path d="M76 0.5H0.5V75.5H76" fill="none" stroke="#000" stroke-width="1"/><path d="M75.5 1V75" stroke="#d0d0d0" stroke-width="1"/><path d="M23.6 22.8H52.5V51.6H49.4V25.8H23.6z" fill="#000"/><path d="M56.8 2.4h11.8v2.4h2.4v11.8h-2.4v2.4h-11.8v-2.4h-2.4v-11.8h2.4z" fill="#f9776a"/></g><g transform="translate(1444 385)"><rect x="0" y="0" width="76" height="76" fill="#fff"/><path d="M76 0.5H0.5V75.5H76" fill="none" stroke="#000" stroke-width="1"/><path d="M75.5 1V75" stroke="#d0d0d0" stroke-width="1"/><path d="M23.6 22.8H52.5V51.6H49.4V25.8H23.6z" fill="#000"/><path d="M54.5 2.4h11.8v2.4h2.4v11.8h-2.4v2.4h-11.8v-2.4h-2.4v-11.8h2.4z" fill="#f9776a"/></g><g transform="translate(1521 460)"><rect x="0" y="0" width="76" height="76" fill="#fff"/><path d="M76 0.5H0.5V75.5H76" fill="none" stroke="#000" stroke-width="1"/><path d="M75.5 1V75" stroke="#d0d0d0" stroke-width="1"/><path d="M23.6 22.8H52.5V51.6H49.4V25.8H23.6z" fill="#000"/><path d="M52.1 2.4h11.8v2.4h2.4v11.8h-2.4v2.4h-11.8v-2.4h-2.4v-11.8h2.4z" fill="#f9776a"/></g><g transform="translate(1588 545)"><rect x="0" y="0" width="76" height="76" fill="#fff"/><path d="M76 0.5H0.5V75.5H76" fill="none" stroke="#000" stroke-width="1"/><path d="M75.5 1V75" stroke="#d0d0d0" stroke-width="1"/><path d="M23.6 22.8H52.5V51.6H49.4V25.8H23.6z" fill="#000"/><path d="M49.7 2.4h11.8v2.4h2.4v11.8h-2.4v2.4h-11.8v-2.4h-2.4v-11.8h2.4z" fill="#f9776a"/></g><g transform="translate(1303 414)"><rect x="0" y="0" width="76" height="76" fill="#fff"/><path d="M76 0.5H0.5V75.5H76" fill="none" stroke="#000" stroke-width="1"/><path d="M75.5 1V75" stroke="#d0d0d0" stroke-width="1"/><path d="M23.6 22.8H52.5V51.6H49.4V25.8H23.6z" fill="#000"/><path d="M56.8 4.7h11.8v2.4h2.4v11.8h-2.4v2.4h-11.8v-2.4h-2.4v-11.8h2.4z" fill="#f9776a"/></g><g transform="translate(1390 477)"><rect x="0" y="0" width="76" height="76" fill="#fff"/><path d="M76 0.5H0.5V75.5H76" fill="none" stroke="#000" stroke-width="1"/><path d="M75.5 1V75" stroke="#d0d0d0" stroke-width="1"/><path d="M23.6 22.8H52.5V51.6H49.4V25.8H23.6z" fill="#000"/><path d="M54.5 4.7h11.8v2.4h2.4v11.8h-2.4v2.4h-11.8v-2.4h-2.4v-11.8h2.4z" fill="#f9776a"/></g><g transform="translate(1464 555)"><rect x="0" y="0" width="76" height="76" fill="#fff"/><path d="M76 0.5H0.5V75.5H76" fill="none" stroke="#000" stroke-width="1"/><path d="M75.5 1V75" stroke="#d0d0d0" stroke-width="1"/><path d="M23.6 22.8H52.5V51.6H49.4V25.8H23.6z" fill="#000"/><path d="M52.1 4.7h11.8v2.4h2.4v11.8h-2.4v2.4h-11.8v-2.4h-2.4v-11.8h2.4z" fill="#f9776a"/></g><g transform="translate(1525 644)"><rect x="0" y="0" width="76" height="76" fill="#fff"/><path d="M76 0.5H0.5V75.5H76" fill="none" stroke="#000" stroke-width="1"/><path d="M75.5 1V75" stroke="#d0d0d0" stroke-width="1"/><path d="M23.6 22.8H52.5V51.6H49.4V25.8H23.6z" fill="#000"/><path d="M47.4 4.7h11.8v2.4h2.4v11.8h-2.4v2.4h-11.8v-2.4h-2.4v-11.8h2.4z" fill="#f9776a"/></g><g transform="translate(1639 639)"><rect x="0" y="0" width="76" height="76" fill="#fff"/><path d="M76 0.5H0.5V75.5H76" fill="none" stroke="#000" stroke-width="1"/><path d="M75.5 1V75" stroke="#d0d0d0" stroke-width="1"/><path d="M23.6 22.8H52.5V51.6H49.4V25.8H23.6z" fill="#000"/><path d="M47.4 2.4h11.8v2.4h2.4v11.8h-2.4v2.4h-11.8v-2.4h-2.4v-11.8h2.4z" fill="#f9776a"/></g><g transform="translate(1251 505)"><rect x="0" y="0" width="76" height="76" fill="#fff"/><path d="M76 0.5H0.5V75.5H76" fill="none" stroke="#000" stroke-width="1"/><path d="M75.5 1V75" stroke="#d0d0d0" stroke-width="1"/><path d="M23.6 22.8H52.5V51.6H49.4V25.8H23.6z" fill="#000"/><path d="M59.2 4.7h11.8v2.4h2.4v11.8h-2.4v2.4h-11.8v-2.4h-2.4v-11.8h2.4z" fill="#f9776a"/></g><g transform="translate(1335 570)"><rect x="0" y="0" width="76" height="76" fill="#fff"/><path d="M76 0.5H0.5V75.5H76" fill="none" stroke="#000" stroke-width="1"/><path d="M75.5 1V75" stroke="#d0d0d0" stroke-width="1"/><path d="M23.6 22.8H52.5V51.6H49.4V25.8H23.6z" fill="#000"/><path d="M56.8 7.1h11.8v2.4h2.4v11.8h-2.4v2.4h-11.8v-2.4h-2.4v-11.8h2.4z" fill="#f9776a"/></g><g transform="translate(1405 651)"><rect x="0" y="0" width="76" height="76" fill="#fff"/><path d="M76 0.5H0.5V75.5H76" fill="none" stroke="#000" stroke-width="1"/><path d="M75.5 1V75" stroke="#d0d0d0" stroke-width="1"/><path d="M23.6 22.8H52.5V51.6H49.4V25.8H23.6z" fill="#000"/><path d="M54.5 7.1h11.8v2.4h2.4v11.8h-2.4v2.4h-11.8v-2.4h-2.4v-11.8h2.4z" fill="#f9776a"/></g><g transform="translate(1279 663)"><rect x="0" y="0" width="76" height="76" fill="#fff"/><path d="M76 0.5H0.5V75.5H76" fill="none" stroke="#000" stroke-width="1"/><path d="M75.5 1V75" stroke="#d0d0d0" stroke-width="1"/><path d="M23.6 22.8H52.5V51.6H49.4V25.8H23.6z" fill="#000"/><path d="M56.8 9.5h11.8v2.4h2.4v11.8h-2.4v2.4h-11.8v-2.4h-2.4v-11.8h2.4z" fill="#f9776a"/></g><g transform="translate(731 749)"><rect x="0" y="0" width="76" height="76" fill="#fff"/><path d="M76 0.5H0.5V75.5H76" fill="none" stroke="#000" stroke-width="1"/><path d="M75.5 1V75" stroke="#d0d0d0" stroke-width="1"/><path d="M23.6 22.8H52.5V51.6H49.4V25.8H23.6z" fill="#000"/><path d="M16.6 33.2h11.8v2.4h2.4v11.8h-2.4v2.4h-11.8v-2.4h-2.4v-11.8h2.4z" fill="#f9776a"/></g><g transform="translate(252 791)"><rect x="0" y="0" width="76" height="76" fill="#fff"/><path d="M76 0.5H0.5V75.5H76" fill="none" stroke="#000" stroke-width="1"/><path d="M75.5 1V75" stroke="#d0d0d0" stroke-width="1"/><path d="M23.6 22.8H52.5V51.6H49.4V25.8H23.6z" fill="#000"/><path d="M7.1 21.3h11.8v2.4h2.4v11.8h-2.4v2.4h-11.8v-2.4h-2.4v-11.8h2.4z" fill="#f9776a"/></g><g transform="translate(360 793)"><rect x="0" y="0" width="76" height="76" fill="#fff"/><path d="M76 0.5H0.5V75.5H76" fill="none" stroke="#000" stroke-width="1"/><path d="M75.5 1V75" stroke="#d0d0d0" stroke-width="1"/><path d="M23.6 22.8H52.5V51.6H49.4V25.8H23.6z" fill="#000"/><path d="M9.5 21.3h11.8v2.4h2.4v11.8h-2.4v2.4h-11.8v-2.4h-2.4v-11.8h2.4z" fill="#f9776a"/></g><g transform="translate(470 794)"><rect x="0" y="0" width="76" height="76" fill="#fff"/><path d="M76 0.5H0.5V75.5H76" fill="none" stroke="#000" stroke-width="1"/><path d="M75.5 1V75" stroke="#d0d0d0" stroke-width="1"/><path d="M23.6 22.8H52.5V51.6H49.4V25.8H23.6z" fill="#000"/><path d="M9.5 23.7h11.8v2.4h2.4v11.8h-2.4v2.4h-11.8v-2.4h-2.4v-11.8h2.4z" fill="#f9776a"/></g><g transform="translate(581 797)"><rect x="0" y="0" width="76" height="76" fill="#fff"/><path d="M76 0.5H0.5V75.5H76" fill="none" stroke="#000" stroke-width="1"/><path d="M75.5 1V75" stroke="#d0d0d0" stroke-width="1"/><path d="M23.6 22.8H52.5V51.6H49.4V25.8H23.6z" fill="#000"/><path d="M11.8 26.1h11.8v2.4h2.4v11.8h-2.4v2.4h-11.8v-2.4h-2.4v-11.8h2.4z" fill="#f9776a"/></g><g transform="translate(675 844)"><rect x="0" y="0" width="76" height="76" fill="#fff"/><path d="M76 0.5H0.5V75.5H76" fill="none" stroke="#000" stroke-width="1"/><path d="M75.5 1V75" stroke="#d0d0d0" stroke-width="1"/><path d="M23.6 22.8H52.5V51.6H49.4V25.8H23.6z" fill="#000"/><path d="M16.6 28.4h11.8v2.4h2.4v11.8h-2.4v2.4h-11.8v-2.4h-2.4v-11.8h2.4z" fill="#f9776a"/></g><g transform="translate(238 898)"><rect x="0" y="0" width="76" height="76" fill="#fff"/><path d="M76 0.5H0.5V75.5H76" fill="none" stroke="#000" stroke-width="1"/><path d="M75.5 1V75" stroke="#d0d0d0" stroke-width="1"/><path d="M23.6 22.8H52.5V51.6H49.4V25.8H23.6z" fill="#000"/><path d="M59.2 23.7h11.8v2.4h2.4v11.8h-2.4v2.4h-11.8v-2.4h-2.4v-11.8h2.4z" fill="#f9776a"/></g><g transform="translate(342 898)"><rect x="0" y="0" width="76" height="76" fill="#fff"/><path d="M76 0.5H0.5V75.5H76" fill="none" stroke="#000" stroke-width="1"/><path d="M75.5 1V75" stroke="#d0d0d0" stroke-width="1"/><path d="M23.6 22.8H52.5V51.6H49.4V25.8H23.6z" fill="#000"/><path d="M59.2 23.7h11.8v2.4h2.4v11.8h-2.4v2.4h-11.8v-2.4h-2.4v-11.8h2.4z" fill="#f9776a"/></g><g transform="translate(448 898)"><rect x="0" y="0" width="76" height="76" fill="#fff"/><path d="M76 0.5H0.5V75.5H76" fill="none" stroke="#000" stroke-width="1"/><path d="M75.5 1V75" stroke="#d0d0d0" stroke-width="1"/><path d="M23.6 22.8H52.5V51.6H49.4V25.8H23.6z" fill="#000"/><path d="M59.2 23.7h11.8v2.4h2.4v11.8h-2.4v2.4h-11.8v-2.4h-2.4v-11.8h2.4z" fill="#f9776a"/></g><g transform="translate(555 899)"><rect x="0" y="0" width="76" height="76" fill="#fff"/><path d="M76 0.5H0.5V75.5H76" fill="none" stroke="#000" stroke-width="1"/><path d="M75.5 1V75" stroke="#d0d0d0" stroke-width="1"/><path d="M23.6 22.8H52.5V51.6H49.4V25.8H23.6z" fill="#000"/><path d="M56.8 23.7h11.8v2.4h2.4v11.8h-2.4v2.4h-11.8v-2.4h-2.4v-11.8h2.4z" fill="#f9776a"/></g><g transform="translate(656 952)"><rect x="0" y="0" width="76" height="76" fill="#fff"/><path d="M76 0.5H0.5V75.5H76" fill="none" stroke="#000" stroke-width="1"/><path d="M75.5 1V75" stroke="#d0d0d0" stroke-width="1"/><path d="M23.6 22.8H52.5V51.6H49.4V25.8H23.6z" fill="#000"/><path d="M56.8 28.4h11.8v2.4h2.4v11.8h-2.4v2.4h-11.8v-2.4h-2.4v-11.8h2.4z" fill="#f9776a"/></g><g transform="translate(238 1006)"><rect x="0" y="0" width="76" height="76" fill="#fff"/><path d="M76 0.5H0.5V75.5H76" fill="none" stroke="#000" stroke-width="1"/><path d="M75.5 1V75" stroke="#d0d0d0" stroke-width="1"/><path d="M23.6 22.8H52.5V51.6H49.4V25.8H23.6z" fill="#000"/><path d="M59.2 30.8h11.8v2.4h2.4v11.8h-2.4v2.4h-11.8v-2.4h-2.4v-11.8h2.4z" fill="#f9776a"/></g><g transform="translate(342 1005)"><rect x="0" y="0" width="76" height="76" fill="#fff"/><path d="M76 0.5H0.5V75.5H76" fill="none" stroke="#000" stroke-width="1"/><path d="M75.5 1V75" stroke="#d0d0d0" stroke-width="1"/><path d="M23.6 22.8H52.5V51.6H49.4V25.8H23.6z" fill="#000"/><path d="M59.2 30.8h11.8v2.4h2.4v11.8h-2.4v2.4h-11.8v-2.4h-2.4v-11.8h2.4z" fill="#f9776a"/></g><g transform="translate(448 1005)"><rect x="0" y="0" width="76" height="76" fill="#fff"/><path d="M76 0.5H0.5V75.5H76" fill="none" stroke="#000" stroke-width="1"/><path d="M75.5 1V75" stroke="#d0d0d0" stroke-width="1"/><path d="M23.6 22.8H52.5V51.6H49.4V25.8H23.6z" fill="#000"/><path d="M59.2 30.8h11.8v2.4h2.4v11.8h-2.4v2.4h-11.8v-2.4h-2.4v-11.8h2.4z" fill="#f9776a"/></g><g transform="translate(555 1006)"><rect x="0" y="0" width="76" height="76" fill="#fff"/><path d="M76 0.5H0.5V75.5H76" fill="none" stroke="#000" stroke-width="1"/><path d="M75.5 1V75" stroke="#d0d0d0" stroke-width="1"/><path d="M23.6 22.8H52.5V51.6H49.4V25.8H23.6z" fill="#000"/><path d="M59.2 28.4h11.8v2.4h2.4v11.8h-2.4v2.4h-11.8v-2.4h-2.4v-11.8h2.4z" fill="#f9776a"/></g><g transform="translate(675 1060)"><rect x="0" y="0" width="76" height="76" fill="#fff"/><path d="M76 0.5H0.5V75.5H76" fill="none" stroke="#000" stroke-width="1"/><path d="M75.5 1V75" stroke="#d0d0d0" stroke-width="1"/><path d="M23.6 22.8H52.5V51.6H49.4V25.8H23.6z" fill="#000"/><path d="M56.8 35.5h11.8v2.4h2.4v11.8h-2.4v2.4h-11.8v-2.4h-2.4v-11.8h2.4z" fill="#f9776a"/></g><g transform="translate(252 1112)"><rect x="0" y="0" width="76" height="76" fill="#fff"/><path d="M76 0.5H0.5V75.5H76" fill="none" stroke="#000" stroke-width="1"/><path d="M75.5 1V75" stroke="#d0d0d0" stroke-width="1"/><path d="M23.6 22.8H52.5V51.6H49.4V25.8H23.6z" fill="#000"/><path d="M59.2 37.9h11.8v2.4h2.4v11.8h-2.4v2.4h-11.8v-2.4h-2.4v-11.8h2.4z" fill="#f9776a"/></g><g transform="translate(360 1111)"><rect x="0" y="0" width="76" height="76" fill="#fff"/><path d="M76 0.5H0.5V75.5H76" fill="none" stroke="#000" stroke-width="1"/><path d="M75.5 1V75" stroke="#d0d0d0" stroke-width="1"/><path d="M23.6 22.8H52.5V51.6H49.4V25.8H23.6z" fill="#000"/><path d="M59.2 35.5h11.8v2.4h2.4v11.8h-2.4v2.4h-11.8v-2.4h-2.4v-11.8h2.4z" fill="#f9776a"/></g><g transform="translate(470 1109)"><rect x="0" y="0" width="76" height="76" fill="#fff"/><path d="M76 0.5H0.5V75.5H76" fill="none" stroke="#000" stroke-width="1"/><path d="M75.5 1V75" stroke="#d0d0d0" stroke-width="1"/><path d="M23.6 22.8H52.5V51.6H49.4V25.8H23.6z" fill="#000"/><path d="M59.2 37.9h11.8v2.4h2.4v11.8h-2.4v2.4h-11.8v-2.4h-2.4v-11.8h2.4z" fill="#f9776a"/></g><g transform="translate(581 1107)"><rect x="0" y="0" width="76" height="76" fill="#fff"/><path d="M76 0.5H0.5V75.5H76" fill="none" stroke="#000" stroke-width="1"/><path d="M75.5 1V75" stroke="#d0d0d0" stroke-width="1"/><path d="M23.6 22.8H52.5V51.6H49.4V25.8H23.6z" fill="#000"/><path d="M59.2 35.5h11.8v2.4h2.4v11.8h-2.4v2.4h-11.8v-2.4h-2.4v-11.8h2.4z" fill="#f9776a"/></g><g transform="translate(283 1215)"><rect x="0" y="0" width="76" height="76" fill="#fff"/><path d="M76 0.5H0.5V75.5H76" fill="none" stroke="#000" stroke-width="1"/><path d="M75.5 1V75" stroke="#d0d0d0" stroke-width="1"/><path d="M23.6 22.8H52.5V51.6H49.4V25.8H23.6z" fill="#000"/><path d="M59.2 45h11.8v2.4h2.4v11.8h-2.4v2.4h-11.8v-2.4h-2.4v-11.8h2.4z" fill="#f9776a"/></g><g transform="translate(396 1212)"><rect x="0" y="0" width="76" height="76" fill="#fff"/><path d="M76 0.5H0.5V75.5H76" fill="none" stroke="#000" stroke-width="1"/><path d="M75.5 1V75" stroke="#d0d0d0" stroke-width="1"/><path d="M23.6 22.8H52.5V51.6H49.4V25.8H23.6z" fill="#000"/><path d="M59.2 47.4h11.8v2.4h2.4v11.8h-2.4v2.4h-11.8v-2.4h-2.4v-11.8h2.4z" fill="#f9776a"/></g><g transform="translate(511 1207)"><rect x="0" y="0" width="76" height="76" fill="#fff"/><path d="M76 0.5H0.5V75.5H76" fill="none" stroke="#000" stroke-width="1"/><path d="M75.5 1V75" stroke="#d0d0d0" stroke-width="1"/><path d="M23.6 22.8H52.5V51.6H49.4V25.8H23.6z" fill="#000"/><path d="M59.2 45h11.8v2.4h2.4v11.8h-2.4v2.4h-11.8v-2.4h-2.4v-11.8h2.4z" fill="#f9776a"/></g><g transform="translate(631 1199)"><rect x="0" y="0" width="76" height="76" fill="#fff"/><path d="M76 0.5H0.5V75.5H76" fill="none" stroke="#000" stroke-width="1"/><path d="M75.5 1V75" stroke="#d0d0d0" stroke-width="1"/><path d="M23.6 22.8H52.5V51.6H49.4V25.8H23.6z" fill="#000"/><path d="M56.8 42.6h11.8v2.4h2.4v11.8h-2.4v2.4h-11.8v-2.4h-2.4v-11.8h2.4z" fill="#f9776a"/></g><g transform="translate(972 741)"><rect x="0" y="0" width="76" height="76" fill="#fff"/><path d="M76 0.5H0.5V75.5H76" fill="none" stroke="#000" stroke-width="1"/><path d="M75.5 1V75" stroke="#d0d0d0" stroke-width="1"/><path d="M23.6 22.8H52.5V51.6H49.4V25.8H23.6z" fill="#000"/><path d="M18.9 45h11.8v2.4h2.4v11.8h-2.4v2.4h-11.8v-2.4h-2.4v-11.8h2.4z" fill="#f9776a"/></g><g transform="translate(868 769)"><rect x="0" y="0" width="76" height="76" fill="#fff"/><path d="M76 0.5H0.5V75.5H76" fill="none" stroke="#000" stroke-width="1"/><path d="M75.5 1V75" stroke="#d0d0d0" stroke-width="1"/><path d="M23.6 22.8H52.5V51.6H49.4V25.8H23.6z" fill="#000"/><path d="M18.9 35.5h11.8v2.4h2.4v11.8h-2.4v2.4h-11.8v-2.4h-2.4v-11.8h2.4z" fill="#f9776a"/></g><g transform="translate(1078 769)"><rect x="0" y="0" width="76" height="76" fill="#fff"/><path d="M76 0.5H0.5V75.5H76" fill="none" stroke="#000" stroke-width="1"/><path d="M75.5 1V75" stroke="#d0d0d0" stroke-width="1"/><path d="M23.6 22.8H52.5V51.6H49.4V25.8H23.6z" fill="#000"/><path d="M18.9 54.5h11.8v2.4h2.4v11.8h-2.4v2.4h-11.8v-2.4h-2.4v-11.8h2.4z" fill="#f9776a"/></g><g transform="translate(1214 749)"><rect x="0" y="0" width="76" height="76" fill="#fff"/><path d="M76 0.5H0.5V75.5H76" fill="none" stroke="#000" stroke-width="1"/><path d="M75.5 1V75" stroke="#d0d0d0" stroke-width="1"/><path d="M23.6 22.8H52.5V51.6H49.4V25.8H23.6z" fill="#000"/><path d="M59.2 14.2h11.8v2.4h2.4v11.8h-2.4v2.4h-11.8v-2.4h-2.4v-11.8h2.4z" fill="#f9776a"/></g><g transform="translate(790 846)"><rect x="0" y="0" width="76" height="76" fill="#fff"/><path d="M76 0.5H0.5V75.5H76" fill="none" stroke="#000" stroke-width="1"/><path d="M75.5 1V75" stroke="#d0d0d0" stroke-width="1"/><path d="M23.6 22.8H52.5V51.6H49.4V25.8H23.6z" fill="#000"/><path d="M18.9 30.8h11.8v2.4h2.4v11.8h-2.4v2.4h-11.8v-2.4h-2.4v-11.8h2.4z" fill="#f9776a"/></g><g transform="translate(919 861)"><rect x="0" y="0" width="76" height="76" fill="#fff"/><path d="M76 0.5H0.5V75.5H76" fill="none" stroke="#000" stroke-width="1"/><path d="M75.5 1V75" stroke="#d0d0d0" stroke-width="1"/><path d="M23.6 22.8H52.5V51.6H49.4V25.8H23.6z" fill="#000"/><path d="M23.7 33.2h11.8v2.4h2.4v11.8h-2.4v2.4h-11.8v-2.4h-2.4v-11.8h2.4z" fill="#f9776a"/></g><g transform="translate(1025 861)"><rect x="0" y="0" width="76" height="76" fill="#fff"/><path d="M76 0.5H0.5V75.5H76" fill="none" stroke="#000" stroke-width="1"/><path d="M75.5 1V75" stroke="#d0d0d0" stroke-width="1"/><path d="M23.6 22.8H52.5V51.6H49.4V25.8H23.6z" fill="#000"/><path d="M24.7 41.5l4 -4l3 4v3h-8z" fill="#f9a89f"/></g><g transform="translate(1155 846)"><rect x="0" y="0" width="76" height="76" fill="#fff"/><path d="M76 0.5H0.5V75.5H76" fill="none" stroke="#000" stroke-width="1"/><path d="M75.5 1V75" stroke="#d0d0d0" stroke-width="1"/><path d="M23.6 22.8H52.5V51.6H49.4V25.8H23.6z" fill="#000"/><path d="M59.2 18.9h11.8v2.4h2.4v11.8h-2.4v2.4h-11.8v-2.4h-2.4v-11.8h2.4z" fill="#f9776a"/></g><g transform="translate(761 952)"><rect x="0" y="0" width="76" height="76" fill="#fff"/><path d="M76 0.5H0.5V75.5H76" fill="none" stroke="#000" stroke-width="1"/><path d="M75.5 1V75" stroke="#d0d0d0" stroke-width="1"/><path d="M23.6 22.8H52.5V51.6H49.4V25.8H23.6z" fill="#000"/><path d="M56.8 28.4h11.8v2.4h2.4v11.8h-2.4v2.4h-11.8v-2.4h-2.4v-11.8h2.4z" fill="#f9776a"/></g><g transform="translate(868 952)"><rect x="0" y="0" width="76" height="76" fill="#fff"/><path d="M76 0.5H0.5V75.5H76" fill="none" stroke="#000" stroke-width="1"/><path d="M75.5 1V75" stroke="#d0d0d0" stroke-width="1"/><path d="M23.6 22.8H52.5V51.6H49.4V25.8H23.6z" fill="#000"/><path d="M30.8 28.4h11.8v2.4h2.4v11.8h-2.4v2.4h-11.8v-2.4h-2.4v-11.8h2.4z" fill="#f9776a"/></g><g transform="translate(973 952)"><rect x="0" y="0" width="76" height="76" fill="#fff"/><path d="M76 0.5H0.5V75.5H76" fill="none" stroke="#000" stroke-width="1"/><path d="M75.5 1V75" stroke="#d0d0d0" stroke-width="1"/><path d="M23.6 22.8H52.5V51.6H49.4V25.8H23.6z" fill="#000"/><path d="M30.8 28.4h11.8v2.4h2.4v11.8h-2.4v2.4h-11.8v-2.4h-2.4v-11.8h2.4z" fill="#f9776a"/></g><g transform="translate(1078 952)"><rect x="0" y="0" width="76" height="76" fill="#fff"/><path d="M76 0.5H0.5V75.5H76" fill="none" stroke="#000" stroke-width="1"/><path d="M75.5 1V75" stroke="#d0d0d0" stroke-width="1"/><path d="M23.6 22.8H52.5V51.6H49.4V25.8H23.6z" fill="#000"/><path d="M26.1 28.4h11.8v2.4h2.4v11.8h-2.4v2.4h-11.8v-2.4h-2.4v-11.8h2.4z" fill="#f9776a"/></g><g transform="translate(1183 952)"><rect x="0" y="0" width="76" height="76" fill="#fff"/><path d="M76 0.5H0.5V75.5H76" fill="none" stroke="#000" stroke-width="1"/><path d="M75.5 1V75" stroke="#d0d0d0" stroke-width="1"/><path d="M23.6 22.8H52.5V51.6H49.4V25.8H23.6z" fill="#000"/><rect x="28.1" y="29.4" width="5" height="2" fill="#fcd2c0"/></g><g transform="translate(790 1057)"><rect x="0" y="0" width="76" height="76" fill="#fff"/><path d="M76 0.5H0.5V75.5H76" fill="none" stroke="#000" stroke-width="1"/><path d="M75.5 1V75" stroke="#d0d0d0" stroke-width="1"/><path d="M23.6 22.8H52.5V51.6H49.4V25.8H23.6z" fill="#000"/><path d="M56.8 35.5h11.8v2.4h2.4v11.8h-2.4v2.4h-11.8v-2.4h-2.4v-11.8h2.4z" fill="#f9776a"/></g><g transform="translate(919 1043)"><rect x="0" y="0" width="76" height="76" fill="#fff"/><path d="M76 0.5H0.5V75.5H76" fill="none" stroke="#000" stroke-width="1"/><path d="M75.5 1V75" stroke="#d0d0d0" stroke-width="1"/><path d="M23.6 22.8H52.5V51.6H49.4V25.8H23.6z" fill="#000"/><path d="M30.8 33.2h11.8v2.4h2.4v11.8h-2.4v2.4h-11.8v-2.4h-2.4v-11.8h2.4z" fill="#f9776a"/></g><g transform="translate(1025 1043)"><rect x="0" y="0" width="76" height="76" fill="#fff"/><path d="M76 0.5H0.5V75.5H76" fill="none" stroke="#000" stroke-width="1"/><path d="M75.5 1V75" stroke="#d0d0d0" stroke-width="1"/><path d="M23.6 22.8H52.5V51.6H49.4V25.8H23.6z" fill="#000"/><path d="M26.1 33.2h11.8v2.4h2.4v11.8h-2.4v2.4h-11.8v-2.4h-2.4v-11.8h2.4z" fill="#f9776a"/></g><g transform="translate(1155 1057)"><rect x="0" y="0" width="76" height="76" fill="#fff"/><path d="M76 0.5H0.5V75.5H76" fill="none" stroke="#000" stroke-width="1"/><path d="M75.5 1V75" stroke="#d0d0d0" stroke-width="1"/><path d="M23.6 22.8H52.5V51.6H49.4V25.8H23.6z" fill="#000"/><path d="M4.7 21.3h11.8v2.4h2.4v11.8h-2.4v2.4h-11.8v-2.4h-2.4v-11.8h2.4z" fill="#f9776a"/></g><g transform="translate(731 1155)"><rect x="0" y="0" width="76" height="76" fill="#fff"/><path d="M76 0.5H0.5V75.5H76" fill="none" stroke="#000" stroke-width="1"/><path d="M75.5 1V75" stroke="#d0d0d0" stroke-width="1"/><path d="M23.6 22.8H52.5V51.6H49.4V25.8H23.6z" fill="#000"/><path d="M56.8 40.3h11.8v2.4h2.4v11.8h-2.4v2.4h-11.8v-2.4h-2.4v-11.8h2.4z" fill="#f9776a"/></g><g transform="translate(868 1134)"><rect x="0" y="0" width="76" height="76" fill="#fff"/><path d="M76 0.5H0.5V75.5H76" fill="none" stroke="#000" stroke-width="1"/><path d="M75.5 1V75" stroke="#d0d0d0" stroke-width="1"/><path d="M23.6 22.8H52.5V51.6H49.4V25.8H23.6z" fill="#000"/><path d="M33.2 40.3h11.8v2.4h2.4v11.8h-2.4v2.4h-11.8v-2.4h-2.4v-11.8h2.4z" fill="#f9776a"/></g><g transform="translate(973 1162)"><rect x="0" y="0" width="76" height="76" fill="#fff"/><path d="M76 0.5H0.5V75.5H76" fill="none" stroke="#000" stroke-width="1"/><path d="M75.5 1V75" stroke="#d0d0d0" stroke-width="1"/><path d="M23.6 22.8H52.5V51.6H49.4V25.8H23.6z" fill="#000"/><path d="M30.8 40.3h11.8v2.4h2.4v11.8h-2.4v2.4h-11.8v-2.4h-2.4v-11.8h2.4z" fill="#f9776a"/></g><g transform="translate(1078 1134)"><rect x="0" y="0" width="76" height="76" fill="#fff"/><path d="M76 0.5H0.5V75.5H76" fill="none" stroke="#000" stroke-width="1"/><path d="M75.5 1V75" stroke="#d0d0d0" stroke-width="1"/><path d="M23.6 22.8H52.5V51.6H49.4V25.8H23.6z" fill="#000"/><path d="M23.7 40.3h11.8v2.4h2.4v11.8h-2.4v2.4h-11.8v-2.4h-2.4v-11.8h2.4z" fill="#f9776a"/></g><g transform="translate(1214 1155)"><rect x="0" y="0" width="76" height="76" fill="#fff"/><path d="M76 0.5H0.5V75.5H76" fill="none" stroke="#000" stroke-width="1"/><path d="M75.5 1V75" stroke="#d0d0d0" stroke-width="1"/><path d="M23.6 22.8H52.5V51.6H49.4V25.8H23.6z" fill="#000"/><path d="M4.7 16.6h11.8v2.4h2.4v11.8h-2.4v2.4h-11.8v-2.4h-2.4v-11.8h2.4z" fill="#f9776a"/></g><g transform="translate(814 1225)"><rect x="0" y="0" width="76" height="76" fill="#fff"/><path d="M76 0.5H0.5V75.5H76" fill="none" stroke="#000" stroke-width="1"/><path d="M75.5 1V75" stroke="#d0d0d0" stroke-width="1"/><path d="M23.6 22.8H52.5V51.6H49.4V25.8H23.6z" fill="#000"/><path d="M40.3 47.4h11.8v2.4h2.4v11.8h-2.4v2.4h-11.8v-2.4h-2.4v-11.8h2.4z" fill="#f9776a"/></g><g transform="translate(1131 1225)"><rect x="0" y="0" width="76" height="76" fill="#fff"/><path d="M76 0.5H0.5V75.5H76" fill="none" stroke="#000" stroke-width="1"/><path d="M75.5 1V75" stroke="#d0d0d0" stroke-width="1"/><path d="M23.6 22.8H52.5V51.6H49.4V25.8H23.6z" fill="#000"/><path d="M23.7 45h11.8v2.4h2.4v11.8h-2.4v2.4h-11.8v-2.4h-2.4v-11.8h2.4z" fill="#f9776a"/></g><g transform="translate(1342 749)"><rect x="0" y="0" width="76" height="76" fill="#fff"/><path d="M76 0.5H0.5V75.5H76" fill="none" stroke="#000" stroke-width="1"/><path d="M75.5 1V75" stroke="#d0d0d0" stroke-width="1"/><path d="M23.6 22.8H52.5V51.6H49.4V25.8H23.6z" fill="#000"/><path d="M56.8 11.8h11.8v2.4h2.4v11.8h-2.4v2.4h-11.8v-2.4h-2.4v-11.8h2.4z" fill="#f9776a"/></g><g transform="translate(1456 744)"><rect x="0" y="0" width="76" height="76" fill="#fff"/><path d="M76 0.5H0.5V75.5H76" fill="none" stroke="#000" stroke-width="1"/><path d="M75.5 1V75" stroke="#d0d0d0" stroke-width="1"/><path d="M23.6 22.8H52.5V51.6H49.4V25.8H23.6z" fill="#000"/><path d="M42.6 4.7h11.8v2.4h2.4v11.8h-2.4v2.4h-11.8v-2.4h-2.4v-11.8h2.4z" fill="#f9776a"/></g><g transform="translate(1568 741)"><rect x="0" y="0" width="76" height="76" fill="#fff"/><path d="M76 0.5H0.5V75.5H76" fill="none" stroke="#000" stroke-width="1"/><path d="M75.5 1V75" stroke="#d0d0d0" stroke-width="1"/><path d="M23.6 22.8H52.5V51.6H49.4V25.8H23.6z" fill="#000"/><path d="M42.6 2.4h11.8v2.4h2.4v11.8h-2.4v2.4h-11.8v-2.4h-2.4v-11.8h2.4z" fill="#f9776a"/></g><g transform="translate(1678 739)"><rect x="0" y="0" width="76" height="76" fill="#fff"/><path d="M76 0.5H0.5V75.5H76" fill="none" stroke="#000" stroke-width="1"/><path d="M75.5 1V75" stroke="#d0d0d0" stroke-width="1"/><path d="M23.6 22.8H52.5V51.6H49.4V25.8H23.6z" fill="#000"/><path d="M42.6 2.4h11.8v2.4h2.4v11.8h-2.4v2.4h-11.8v-2.4h-2.4v-11.8h2.4z" fill="#f9776a"/></g><g transform="translate(1270 844)"><rect x="0" y="0" width="76" height="76" fill="#fff"/><path d="M76 0.5H0.5V75.5H76" fill="none" stroke="#000" stroke-width="1"/><path d="M75.5 1V75" stroke="#d0d0d0" stroke-width="1"/><path d="M23.6 22.8H52.5V51.6H49.4V25.8H23.6z" fill="#000"/><path d="M56.8 16.6h11.8v2.4h2.4v11.8h-2.4v2.4h-11.8v-2.4h-2.4v-11.8h2.4z" fill="#f9776a"/></g><g transform="translate(1381 847)"><rect x="0" y="0" width="76" height="76" fill="#fff"/><path d="M76 0.5H0.5V75.5H76" fill="none" stroke="#000" stroke-width="1"/><path d="M75.5 1V75" stroke="#d0d0d0" stroke-width="1"/><path d="M23.6 22.8H52.5V51.6H49.4V25.8H23.6z" fill="#000"/><path d="M33.2 2.4h11.8v2.4h2.4v11.8h-2.4v2.4h-11.8v-2.4h-2.4v-11.8h2.4z" fill="#f9776a"/></g><g transform="translate(1488 846)"><rect x="0" y="0" width="76" height="76" fill="#fff"/><path d="M76 0.5H0.5V75.5H76" fill="none" stroke="#000" stroke-width="1"/><path d="M75.5 1V75" stroke="#d0d0d0" stroke-width="1"/><path d="M23.6 22.8H52.5V51.6H49.4V25.8H23.6z" fill="#000"/><path d="M35.5 2.4h11.8v2.4h2.4v11.8h-2.4v2.4h-11.8v-2.4h-2.4v-11.8h2.4z" fill="#f9776a"/></g><g transform="translate(1596 845)"><rect x="0" y="0" width="76" height="76" fill="#fff"/><path d="M76 0.5H0.5V75.5H76" fill="none" stroke="#000" stroke-width="1"/><path d="M75.5 1V75" stroke="#d0d0d0" stroke-width="1"/><path d="M23.6 22.8H52.5V51.6H49.4V25.8H23.6z" fill="#000"/><path d="M35.5 2.4h11.8v2.4h2.4v11.8h-2.4v2.4h-11.8v-2.4h-2.4v-11.8h2.4z" fill="#f9776a"/></g><g transform="translate(1702 844)"><rect x="0" y="0" width="76" height="76" fill="#fff"/><path d="M76 0.5H0.5V75.5H76" fill="none" stroke="#000" stroke-width="1"/><path d="M75.5 1V75" stroke="#d0d0d0" stroke-width="1"/><path d="M23.6 22.8H52.5V51.6H49.4V25.8H23.6z" fill="#000"/><path d="M35.5 2.4h11.8v2.4h2.4v11.8h-2.4v2.4h-11.8v-2.4h-2.4v-11.8h2.4z" fill="#f9776a"/></g><g transform="translate(1288 952)"><rect x="0" y="0" width="76" height="76" fill="#fff"/><path d="M76 0.5H0.5V75.5H76" fill="none" stroke="#000" stroke-width="1"/><path d="M75.5 1V75" stroke="#d0d0d0" stroke-width="1"/><path d="M23.6 22.8H52.5V51.6H49.4V25.8H23.6z" fill="#000"/><path d="M28.4 2.4h11.8v2.4h2.4v11.8h-2.4v2.4h-11.8v-2.4h-2.4v-11.8h2.4z" fill="#f9776a"/></g><g transform="translate(1393 952)"><rect x="0" y="0" width="76" height="76" fill="#fff"/><path d="M76 0.5H0.5V75.5H76" fill="none" stroke="#000" stroke-width="1"/><path d="M75.5 1V75" stroke="#d0d0d0" stroke-width="1"/><path d="M23.6 22.8H52.5V51.6H49.4V25.8H23.6z" fill="#000"/><path d="M26.1 2.4h11.8v2.4h2.4v11.8h-2.4v2.4h-11.8v-2.4h-2.4v-11.8h2.4z" fill="#f9776a"/></g><g transform="translate(1499 952)"><rect x="0" y="0" width="76" height="76" fill="#fff"/><path d="M76 0.5H0.5V75.5H76" fill="none" stroke="#000" stroke-width="1"/><path d="M75.5 1V75" stroke="#d0d0d0" stroke-width="1"/><path d="M23.6 22.8H52.5V51.6H49.4V25.8H23.6z" fill="#000"/><path d="M26.1 2.4h11.8v2.4h2.4v11.8h-2.4v2.4h-11.8v-2.4h-2.4v-11.8h2.4z" fill="#f9776a"/></g><g transform="translate(1605 952)"><rect x="0" y="0" width="76" height="76" fill="#fff"/><path d="M76 0.5H0.5V75.5H76" fill="none" stroke="#000" stroke-width="1"/><path d="M75.5 1V75" stroke="#d0d0d0" stroke-width="1"/><path d="M23.6 22.8H52.5V51.6H49.4V25.8H23.6z" fill="#000"/><path d="M26.1 2.4h11.8v2.4h2.4v11.8h-2.4v2.4h-11.8v-2.4h-2.4v-11.8h2.4z" fill="#f9776a"/></g><g transform="translate(1710 952)"><rect x="0" y="0" width="76" height="76" fill="#fff"/><path d="M76 0.5H0.5V75.5H76" fill="none" stroke="#000" stroke-width="1"/><path d="M75.5 1V75" stroke="#d0d0d0" stroke-width="1"/><path d="M23.6 22.8H52.5V51.6H49.4V25.8H23.6z" fill="#000"/><path d="M26.1 2.4h11.8v2.4h2.4v11.8h-2.4v2.4h-11.8v-2.4h-2.4v-11.8h2.4z" fill="#f9776a"/></g><g transform="translate(1270 1060)"><rect x="0" y="0" width="76" height="76" fill="#fff"/><path d="M76 0.5H0.5V75.5H76" fill="none" stroke="#000" stroke-width="1"/><path d="M75.5 1V75" stroke="#d0d0d0" stroke-width="1"/><path d="M23.6 22.8H52.5V51.6H49.4V25.8H23.6z" fill="#000"/><path d="M9.5 14.2h11.8v2.4h2.4v11.8h-2.4v2.4h-11.8v-2.4h-2.4v-11.8h2.4z" fill="#f9776a"/></g><g transform="translate(1381 1057)"><rect x="0" y="0" width="76" height="76" fill="#fff"/><path d="M76 0.5H0.5V75.5H76" fill="none" stroke="#000" stroke-width="1"/><path d="M75.5 1V75" stroke="#d0d0d0" stroke-width="1"/><path d="M23.6 22.8H52.5V51.6H49.4V25.8H23.6z" fill="#000"/><path d="M16.6 4.7h11.8v2.4h2.4v11.8h-2.4v2.4h-11.8v-2.4h-2.4v-11.8h2.4z" fill="#f9776a"/></g><g transform="translate(1488 1058)"><rect x="0" y="0" width="76" height="76" fill="#fff"/><path d="M76 0.5H0.5V75.5H76" fill="none" stroke="#000" stroke-width="1"/><path d="M75.5 1V75" stroke="#d0d0d0" stroke-width="1"/><path d="M23.6 22.8H52.5V51.6H49.4V25.8H23.6z" fill="#000"/><path d="M18.9 2.4h11.8v2.4h2.4v11.8h-2.4v2.4h-11.8v-2.4h-2.4v-11.8h2.4z" fill="#f9776a"/></g><g transform="translate(1596 1059)"><rect x="0" y="0" width="76" height="76" fill="#fff"/><path d="M76 0.5H0.5V75.5H76" fill="none" stroke="#000" stroke-width="1"/><path d="M75.5 1V75" stroke="#d0d0d0" stroke-width="1"/><path d="M23.6 22.8H52.5V51.6H49.4V25.8H23.6z" fill="#000"/><path d="M18.9 2.4h11.8v2.4h2.4v11.8h-2.4v2.4h-11.8v-2.4h-2.4v-11.8h2.4z" fill="#f9776a"/></g><g transform="translate(1702 1059)"><rect x="0" y="0" width="76" height="76" fill="#fff"/><path d="M76 0.5H0.5V75.5H76" fill="none" stroke="#000" stroke-width="1"/><path d="M75.5 1V75" stroke="#d0d0d0" stroke-width="1"/><path d="M23.6 22.8H52.5V51.6H49.4V25.8H23.6z" fill="#000"/><path d="M18.9 2.4h11.8v2.4h2.4v11.8h-2.4v2.4h-11.8v-2.4h-2.4v-11.8h2.4z" fill="#f9776a"/></g><g transform="translate(1279 1240)"><rect x="0" y="0" width="76" height="76" fill="#fff"/><path d="M76 0.5H0.5V75.5H76" fill="none" stroke="#000" stroke-width="1"/><path d="M75.5 1V75" stroke="#d0d0d0" stroke-width="1"/><path d="M23.6 22.8H52.5V51.6H49.4V25.8H23.6z" fill="#000"/><path d="M4.7 11.8h11.8v2.4h2.4v11.8h-2.4v2.4h-11.8v-2.4h-2.4v-11.8h2.4z" fill="#f9776a"/></g><g transform="translate(1342 1156)"><rect x="0" y="0" width="76" height="76" fill="#fff"/><path d="M76 0.5H0.5V75.5H76" fill="none" stroke="#000" stroke-width="1"/><path d="M75.5 1V75" stroke="#d0d0d0" stroke-width="1"/><path d="M23.6 22.8H52.5V51.6H49.4V25.8H23.6z" fill="#000"/><path d="M7.1 9.5h11.8v2.4h2.4v11.8h-2.4v2.4h-11.8v-2.4h-2.4v-11.8h2.4z" fill="#f9776a"/></g><g transform="translate(1456 1159)"><rect x="0" y="0" width="76" height="76" fill="#fff"/><path d="M76 0.5H0.5V75.5H76" fill="none" stroke="#000" stroke-width="1"/><path d="M75.5 1V75" stroke="#d0d0d0" stroke-width="1"/><path d="M23.6 22.8H52.5V51.6H49.4V25.8H23.6z" fill="#000"/><path d="M11.8 4.7h11.8v2.4h2.4v11.8h-2.4v2.4h-11.8v-2.4h-2.4v-11.8h2.4z" fill="#f9776a"/></g><g transform="translate(1568 1162)"><rect x="0" y="0" width="76" height="76" fill="#fff"/><path d="M76 0.5H0.5V75.5H76" fill="none" stroke="#000" stroke-width="1"/><path d="M75.5 1V75" stroke="#d0d0d0" stroke-width="1"/><path d="M23.6 22.8H52.5V51.6H49.4V25.8H23.6z" fill="#000"/><path d="M11.8 4.7h11.8v2.4h2.4v11.8h-2.4v2.4h-11.8v-2.4h-2.4v-11.8h2.4z" fill="#f9776a"/></g><g transform="translate(1678 1164)"><rect x="0" y="0" width="76" height="76" fill="#fff"/><path d="M76 0.5H0.5V75.5H76" fill="none" stroke="#000" stroke-width="1"/><path d="M75.5 1V75" stroke="#d0d0d0" stroke-width="1"/><path d="M23.6 22.8H52.5V51.6H49.4V25.8H23.6z" fill="#000"/><path d="M11.8 2.4h11.8v2.4h2.4v11.8h-2.4v2.4h-11.8v-2.4h-2.4v-11.8h2.4z" fill="#f9776a"/></g><g transform="translate(704 1277)"><rect x="0" y="0" width="76" height="76" fill="#fff"/><path d="M76 0.5H0.5V75.5H76" fill="none" stroke="#000" stroke-width="1"/><path d="M75.5 1V75" stroke="#d0d0d0" stroke-width="1"/><path d="M23.6 22.8H52.5V51.6H49.4V25.8H23.6z" fill="#000"/><path d="M49.7 49.7h11.8v2.4h2.4v11.8h-2.4v2.4h-11.8v-2.4h-2.4v-11.8h2.4z" fill="#f9776a"/></g><g transform="translate(329 1313)"><rect x="0" y="0" width="76" height="76" fill="#fff"/><path d="M76 0.5H0.5V75.5H76" fill="none" stroke="#000" stroke-width="1"/><path d="M75.5 1V75" stroke="#d0d0d0" stroke-width="1"/><path d="M23.6 22.8H52.5V51.6H49.4V25.8H23.6z" fill="#000"/><path d="M59.2 49.7h11.8v2.4h2.4v11.8h-2.4v2.4h-11.8v-2.4h-2.4v-11.8h2.4z" fill="#f9776a"/></g><g transform="translate(448 1306)"><rect x="0" y="0" width="76" height="76" fill="#fff"/><path d="M76 0.5H0.5V75.5H76" fill="none" stroke="#000" stroke-width="1"/><path d="M75.5 1V75" stroke="#d0d0d0" stroke-width="1"/><path d="M23.6 22.8H52.5V51.6H49.4V25.8H23.6z" fill="#000"/><path d="M56.8 49.7h11.8v2.4h2.4v11.8h-2.4v2.4h-11.8v-2.4h-2.4v-11.8h2.4z" fill="#f9776a"/></g><g transform="translate(572 1295)"><rect x="0" y="0" width="76" height="76" fill="#fff"/><path d="M76 0.5H0.5V75.5H76" fill="none" stroke="#000" stroke-width="1"/><path d="M75.5 1V75" stroke="#d0d0d0" stroke-width="1"/><path d="M23.6 22.8H52.5V51.6H49.4V25.8H23.6z" fill="#000"/><path d="M56.8 49.7h11.8v2.4h2.4v11.8h-2.4v2.4h-11.8v-2.4h-2.4v-11.8h2.4z" fill="#f9776a"/></g><g transform="translate(389 1402)"><rect x="0" y="0" width="76" height="76" fill="#fff"/><path d="M76 0.5H0.5V75.5H76" fill="none" stroke="#000" stroke-width="1"/><path d="M75.5 1V75" stroke="#d0d0d0" stroke-width="1"/><path d="M23.6 22.8H52.5V51.6H49.4V25.8H23.6z" fill="#000"/><path d="M59.2 52.1h11.8v2.4h2.4v11.8h-2.4v2.4h-11.8v-2.4h-2.4v-11.8h2.4z" fill="#f9776a"/></g><g transform="translate(517 1390)"><rect x="0" y="0" width="76" height="76" fill="#fff"/><path d="M76 0.5H0.5V75.5H76" fill="none" stroke="#000" stroke-width="1"/><path d="M75.5 1V75" stroke="#d0d0d0" stroke-width="1"/><path d="M23.6 22.8H52.5V51.6H49.4V25.8H23.6z" fill="#000"/><path d="M56.8 52.1h11.8v2.4h2.4v11.8h-2.4v2.4h-11.8v-2.4h-2.4v-11.8h2.4z" fill="#f9776a"/></g><g transform="translate(649 1368)"><rect x="0" y="0" width="76" height="76" fill="#fff"/><path d="M76 0.5H0.5V75.5H76" fill="none" stroke="#000" stroke-width="1"/><path d="M75.5 1V75" stroke="#d0d0d0" stroke-width="1"/><path d="M23.6 22.8H52.5V51.6H49.4V25.8H23.6z" fill="#000"/><path d="M52.1 54.5h11.8v2.4h2.4v11.8h-2.4v2.4h-11.8v-2.4h-2.4v-11.8h2.4z" fill="#f9776a"/></g><g transform="translate(461 1483)"><rect x="0" y="0" width="76" height="76" fill="#fff"/><path d="M76 0.5H0.5V75.5H76" fill="none" stroke="#000" stroke-width="1"/><path d="M75.5 1V75" stroke="#d0d0d0" stroke-width="1"/><path d="M23.6 22.8H52.5V51.6H49.4V25.8H23.6z" fill="#000"/><path d="M56.8 54.5h11.8v2.4h2.4v11.8h-2.4v2.4h-11.8v-2.4h-2.4v-11.8h2.4z" fill="#f9776a"/></g><g transform="translate(597 1460)"><rect x="0" y="0" width="76" height="76" fill="#fff"/><path d="M76 0.5H0.5V75.5H76" fill="none" stroke="#000" stroke-width="1"/><path d="M75.5 1V75" stroke="#d0d0d0" stroke-width="1"/><path d="M23.6 22.8H52.5V51.6H49.4V25.8H23.6z" fill="#000"/><path d="M54.5 54.5h11.8v2.4h2.4v11.8h-2.4v2.4h-11.8v-2.4h-2.4v-11.8h2.4z" fill="#f9776a"/></g><g transform="translate(687 1516)"><rect x="0" y="0" width="76" height="76" fill="#fff"/><path d="M76 0.5H0.5V75.5H76" fill="none" stroke="#000" stroke-width="1"/><path d="M75.5 1V75" stroke="#d0d0d0" stroke-width="1"/><path d="M23.6 22.8H52.5V51.6H49.4V25.8H23.6z" fill="#000"/><path d="M49.7 56.8h11.8v2.4h2.4v11.8h-2.4v2.4h-11.8v-2.4h-2.4v-11.8h2.4z" fill="#f9776a"/></g><g transform="translate(543 1551)"><rect x="0" y="0" width="76" height="76" fill="#fff"/><path d="M76 0.5H0.5V75.5H76" fill="none" stroke="#000" stroke-width="1"/><path d="M75.5 1V75" stroke="#d0d0d0" stroke-width="1"/><path d="M23.6 22.8H52.5V51.6H49.4V25.8H23.6z" fill="#000"/><path d="M54.5 56.8h11.8v2.4h2.4v11.8h-2.4v2.4h-11.8v-2.4h-2.4v-11.8h2.4z" fill="#f9776a"/></g><g transform="translate(635 1608)"><rect x="0" y="0" width="76" height="76" fill="#fff"/><path d="M76 0.5H0.5V75.5H76" fill="none" stroke="#000" stroke-width="1"/><path d="M75.5 1V75" stroke="#d0d0d0" stroke-width="1"/><path d="M23.6 22.8H52.5V51.6H49.4V25.8H23.6z" fill="#000"/><path d="M52.1 56.8h11.8v2.4h2.4v11.8h-2.4v2.4h-11.8v-2.4h-2.4v-11.8h2.4z" fill="#f9776a"/></g><g transform="translate(917 1263)"><rect x="0" y="0" width="76" height="76" fill="#fff"/><path d="M76 0.5H0.5V75.5H76" fill="none" stroke="#000" stroke-width="1"/><path d="M75.5 1V75" stroke="#d0d0d0" stroke-width="1"/><path d="M23.6 22.8H52.5V51.6H49.4V25.8H23.6z" fill="#000"/><path d="M33.2 47.4h11.8v2.4h2.4v11.8h-2.4v2.4h-11.8v-2.4h-2.4v-11.8h2.4z" fill="#f9776a"/></g><g transform="translate(1027 1263)"><rect x="0" y="0" width="76" height="76" fill="#fff"/><path d="M76 0.5H0.5V75.5H76" fill="none" stroke="#000" stroke-width="1"/><path d="M75.5 1V75" stroke="#d0d0d0" stroke-width="1"/><path d="M23.6 22.8H52.5V51.6H49.4V25.8H23.6z" fill="#000"/><path d="M28.4 45h11.8v2.4h2.4v11.8h-2.4v2.4h-11.8v-2.4h-2.4v-11.8h2.4z" fill="#f9776a"/></g><g transform="translate(1198 1308)"><rect x="0" y="0" width="76" height="76" fill="#fff"/><path d="M76 0.5H0.5V75.5H76" fill="none" stroke="#000" stroke-width="1"/><path d="M75.5 1V75" stroke="#d0d0d0" stroke-width="1"/><path d="M23.6 22.8H52.5V51.6H49.4V25.8H23.6z" fill="#000"/><path d="M21.3 47.4h11.8v2.4h2.4v11.8h-2.4v2.4h-11.8v-2.4h-2.4v-11.8h2.4z" fill="#f9776a"/></g><g transform="translate(792 1333)"><rect x="0" y="0" width="76" height="76" fill="#fff"/><path d="M76 0.5H0.5V75.5H76" fill="none" stroke="#000" stroke-width="1"/><path d="M75.5 1V75" stroke="#d0d0d0" stroke-width="1"/><path d="M23.6 22.8H52.5V51.6H49.4V25.8H23.6z" fill="#000"/><path d="M45 54.5h11.8v2.4h2.4v11.8h-2.4v2.4h-11.8v-2.4h-2.4v-11.8h2.4z" fill="#f9776a"/></g><g transform="translate(893 1366)"><rect x="0" y="0" width="76" height="76" fill="#fff"/><path d="M76 0.5H0.5V75.5H76" fill="none" stroke="#000" stroke-width="1"/><path d="M75.5 1V75" stroke="#d0d0d0" stroke-width="1"/><path d="M23.6 22.8H52.5V51.6H49.4V25.8H23.6z" fill="#000"/><path d="M35.5 52.1h11.8v2.4h2.4v11.8h-2.4v2.4h-11.8v-2.4h-2.4v-11.8h2.4z" fill="#f9776a"/></g><g transform="translate(998 1372)"><rect x="0" y="0" width="76" height="76" fill="#fff"/><path d="M76 0.5H0.5V75.5H76" fill="none" stroke="#000" stroke-width="1"/><path d="M75.5 1V75" stroke="#d0d0d0" stroke-width="1"/><path d="M23.6 22.8H52.5V51.6H49.4V25.8H23.6z" fill="#000"/><path d="M30.8 52.1h11.8v2.4h2.4v11.8h-2.4v2.4h-11.8v-2.4h-2.4v-11.8h2.4z" fill="#f9776a"/></g><g transform="translate(1103 1352)"><rect x="0" y="0" width="76" height="76" fill="#fff"/><path d="M76 0.5H0.5V75.5H76" fill="none" stroke="#000" stroke-width="1"/><path d="M75.5 1V75" stroke="#d0d0d0" stroke-width="1"/><path d="M23.6 22.8H52.5V51.6H49.4V25.8H23.6z" fill="#000"/><path d="M26.1 49.7h11.8v2.4h2.4v11.8h-2.4v2.4h-11.8v-2.4h-2.4v-11.8h2.4z" fill="#f9776a"/></g><g transform="translate(741 1425)"><rect x="0" y="0" width="76" height="76" fill="#fff"/><path d="M76 0.5H0.5V75.5H76" fill="none" stroke="#000" stroke-width="1"/><path d="M75.5 1V75" stroke="#d0d0d0" stroke-width="1"/><path d="M23.6 22.8H52.5V51.6H49.4V25.8H23.6z" fill="#000"/><path d="M47.4 54.5h11.8v2.4h2.4v11.8h-2.4v2.4h-11.8v-2.4h-2.4v-11.8h2.4z" fill="#f9776a"/></g><g transform="translate(840 1462)"><rect x="0" y="0" width="76" height="76" fill="#fff"/><path d="M76 0.5H0.5V75.5H76" fill="none" stroke="#000" stroke-width="1"/><path d="M75.5 1V75" stroke="#d0d0d0" stroke-width="1"/><path d="M23.6 22.8H52.5V51.6H49.4V25.8H23.6z" fill="#000"/><path d="M40.3 54.5h11.8v2.4h2.4v11.8h-2.4v2.4h-11.8v-2.4h-2.4v-11.8h2.4z" fill="#f9776a"/></g><g transform="translate(945 1478)"><rect x="0" y="0" width="76" height="76" fill="#fff"/><path d="M76 0.5H0.5V75.5H76" fill="none" stroke="#000" stroke-width="1"/><path d="M75.5 1V75" stroke="#d0d0d0" stroke-width="1"/><path d="M23.6 22.8H52.5V51.6H49.4V25.8H23.6z" fill="#000"/><path d="M33.2 54.5h11.8v2.4h2.4v11.8h-2.4v2.4h-11.8v-2.4h-2.4v-11.8h2.4z" fill="#f9776a"/></g><g transform="translate(1053 1472)"><rect x="0" y="0" width="76" height="76" fill="#fff"/><path d="M76 0.5H0.5V75.5H76" fill="none" stroke="#000" stroke-width="1"/><path d="M75.5 1V75" stroke="#d0d0d0" stroke-width="1"/><path d="M23.6 22.8H52.5V51.6H49.4V25.8H23.6z" fill="#000"/><path d="M28.4 54.5h11.8v2.4h2.4v11.8h-2.4v2.4h-11.8v-2.4h-2.4v-11.8h2.4z" fill="#f9776a"/></g><g transform="translate(1155 1446)"><rect x="0" y="0" width="76" height="76" fill="#fff"/><path d="M76 0.5H0.5V75.5H76" fill="none" stroke="#000" stroke-width="1"/><path d="M75.5 1V75" stroke="#d0d0d0" stroke-width="1"/><path d="M23.6 22.8H52.5V51.6H49.4V25.8H23.6z" fill="#000"/><path d="M23.7 52.1h11.8v2.4h2.4v11.8h-2.4v2.4h-11.8v-2.4h-2.4v-11.8h2.4z" fill="#f9776a"/></g><g transform="translate(787 1556)"><rect x="0" y="0" width="76" height="76" fill="#fff"/><path d="M76 0.5H0.5V75.5H76" fill="none" stroke="#000" stroke-width="1"/><path d="M75.5 1V75" stroke="#d0d0d0" stroke-width="1"/><path d="M23.6 22.8H52.5V51.6H49.4V25.8H23.6z" fill="#000"/><path d="M45 56.8h11.8v2.4h2.4v11.8h-2.4v2.4h-11.8v-2.4h-2.4v-11.8h2.4z" fill="#f9776a"/></g><g transform="translate(893 1579)"><rect x="0" y="0" width="76" height="76" fill="#fff"/><path d="M76 0.5H0.5V75.5H76" fill="none" stroke="#000" stroke-width="1"/><path d="M75.5 1V75" stroke="#d0d0d0" stroke-width="1"/><path d="M23.6 22.8H52.5V51.6H49.4V25.8H23.6z" fill="#000"/><path d="M37.9 56.8h11.8v2.4h2.4v11.8h-2.4v2.4h-11.8v-2.4h-2.4v-11.8h2.4z" fill="#f9776a"/></g><g transform="translate(999 1583)"><rect x="0" y="0" width="76" height="76" fill="#fff"/><path d="M76 0.5H0.5V75.5H76" fill="none" stroke="#000" stroke-width="1"/><path d="M75.5 1V75" stroke="#d0d0d0" stroke-width="1"/><path d="M23.6 22.8H52.5V51.6H49.4V25.8H23.6z" fill="#000"/><path d="M30.8 54.5h11.8v2.4h2.4v11.8h-2.4v2.4h-11.8v-2.4h-2.4v-11.8h2.4z" fill="#f9776a"/></g><g transform="translate(1105 1570)"><rect x="0" y="0" width="76" height="76" fill="#fff"/><path d="M76 0.5H0.5V75.5H76" fill="none" stroke="#000" stroke-width="1"/><path d="M75.5 1V75" stroke="#d0d0d0" stroke-width="1"/><path d="M23.6 22.8H52.5V51.6H49.4V25.8H23.6z" fill="#000"/><path d="M26.1 54.5h11.8v2.4h2.4v11.8h-2.4v2.4h-11.8v-2.4h-2.4v-11.8h2.4z" fill="#f9776a"/></g><g transform="translate(1208 1538)"><rect x="0" y="0" width="76" height="76" fill="#fff"/><path d="M76 0.5H0.5V75.5H76" fill="none" stroke="#000" stroke-width="1"/><path d="M75.5 1V75" stroke="#d0d0d0" stroke-width="1"/><path d="M23.6 22.8H52.5V51.6H49.4V25.8H23.6z" fill="#000"/><path d="M23.7 54.5h11.8v2.4h2.4v11.8h-2.4v2.4h-11.8v-2.4h-2.4v-11.8h2.4z" fill="#f9776a"/></g><g transform="translate(734 1650)"><rect x="0" y="0" width="76" height="76" fill="#fff"/><path d="M76 0.5H0.5V75.5H76" fill="none" stroke="#000" stroke-width="1"/><path d="M75.5 1V75" stroke="#d0d0d0" stroke-width="1"/><path d="M23.6 22.8H52.5V51.6H49.4V25.8H23.6z" fill="#000"/><path d="M47.4 56.8h11.8v2.4h2.4v11.8h-2.4v2.4h-11.8v-2.4h-2.4v-11.8h2.4z" fill="#f9776a"/></g><g transform="translate(838 1677)"><rect x="0" y="0" width="76" height="76" fill="#fff"/><path d="M76 0.5H0.5V75.5H76" fill="none" stroke="#000" stroke-width="1"/><path d="M75.5 1V75" stroke="#d0d0d0" stroke-width="1"/><path d="M23.6 22.8H52.5V51.6H49.4V25.8H23.6z" fill="#000"/><path d="M40.3 54.5h11.8v2.4h2.4v11.8h-2.4v2.4h-11.8v-2.4h-2.4v-11.8h2.4z" fill="#f9776a"/></g><g transform="translate(945 1689)"><rect x="0" y="0" width="76" height="76" fill="#fff"/><path d="M76 0.5H0.5V75.5H76" fill="none" stroke="#000" stroke-width="1"/><path d="M75.5 1V75" stroke="#d0d0d0" stroke-width="1"/><path d="M23.6 22.8H52.5V51.6H49.4V25.8H23.6z" fill="#000"/><path d="M33.2 54.5h11.8v2.4h2.4v11.8h-2.4v2.4h-11.8v-2.4h-2.4v-11.8h2.4z" fill="#f9776a"/></g><g transform="translate(1054 1685)"><rect x="0" y="0" width="76" height="76" fill="#fff"/><path d="M76 0.5H0.5V75.5H76" fill="none" stroke="#000" stroke-width="1"/><path d="M75.5 1V75" stroke="#d0d0d0" stroke-width="1"/><path d="M23.6 22.8H52.5V51.6H49.4V25.8H23.6z" fill="#000"/><path d="M28.4 54.5h11.8v2.4h2.4v11.8h-2.4v2.4h-11.8v-2.4h-2.4v-11.8h2.4z" fill="#f9776a"/></g><g transform="translate(1158 1665)"><rect x="0" y="0" width="76" height="76" fill="#fff"/><path d="M76 0.5H0.5V75.5H76" fill="none" stroke="#000" stroke-width="1"/><path d="M75.5 1V75" stroke="#d0d0d0" stroke-width="1"/><path d="M23.6 22.8H52.5V51.6H49.4V25.8H23.6z" fill="#000"/><path d="M26.1 56.8h11.8v2.4h2.4v11.8h-2.4v2.4h-11.8v-2.4h-2.4v-11.8h2.4z" fill="#f9776a"/></g><g transform="translate(1405 1253)"><rect x="0" y="0" width="76" height="76" fill="#fff"/><path d="M76 0.5H0.5V75.5H76" fill="none" stroke="#000" stroke-width="1"/><path d="M75.5 1V75" stroke="#d0d0d0" stroke-width="1"/><path d="M23.6 22.8H52.5V51.6H49.4V25.8H23.6z" fill="#000"/><path d="M7.1 7.1h11.8v2.4h2.4v11.8h-2.4v2.4h-11.8v-2.4h-2.4v-11.8h2.4z" fill="#f9776a"/></g><g transform="translate(1525 1260)"><rect x="0" y="0" width="76" height="76" fill="#fff"/><path d="M76 0.5H0.5V75.5H76" fill="none" stroke="#000" stroke-width="1"/><path d="M75.5 1V75" stroke="#d0d0d0" stroke-width="1"/><path d="M23.6 22.8H52.5V51.6H49.4V25.8H23.6z" fill="#000"/><path d="M9.5 4.7h11.8v2.4h2.4v11.8h-2.4v2.4h-11.8v-2.4h-2.4v-11.8h2.4z" fill="#f9776a"/></g><g transform="translate(1639 1265)"><rect x="0" y="0" width="76" height="76" fill="#fff"/><path d="M76 0.5H0.5V75.5H76" fill="none" stroke="#000" stroke-width="1"/><path d="M75.5 1V75" stroke="#d0d0d0" stroke-width="1"/><path d="M23.6 22.8H52.5V51.6H49.4V25.8H23.6z" fill="#000"/><path d="M9.5 2.4h11.8v2.4h2.4v11.8h-2.4v2.4h-11.8v-2.4h-2.4v-11.8h2.4z" fill="#f9776a"/></g><g transform="translate(1335 1334)"><rect x="0" y="0" width="76" height="76" fill="#fff"/><path d="M76 0.5H0.5V75.5H76" fill="none" stroke="#000" stroke-width="1"/><path d="M75.5 1V75" stroke="#d0d0d0" stroke-width="1"/><path d="M23.6 22.8H52.5V51.6H49.4V25.8H23.6z" fill="#000"/><path d="M4.7 7.1h11.8v2.4h2.4v11.8h-2.4v2.4h-11.8v-2.4h-2.4v-11.8h2.4z" fill="#f9776a"/></g><g transform="translate(1464 1350)"><rect x="0" y="0" width="76" height="76" fill="#fff"/><path d="M76 0.5H0.5V75.5H76" fill="none" stroke="#000" stroke-width="1"/><path d="M75.5 1V75" stroke="#d0d0d0" stroke-width="1"/><path d="M23.6 22.8H52.5V51.6H49.4V25.8H23.6z" fill="#000"/><path d="M7.1 4.7h11.8v2.4h2.4v11.8h-2.4v2.4h-11.8v-2.4h-2.4v-11.8h2.4z" fill="#f9776a"/></g><g transform="translate(1588 1359)"><rect x="0" y="0" width="76" height="76" fill="#fff"/><path d="M76 0.5H0.5V75.5H76" fill="none" stroke="#000" stroke-width="1"/><path d="M75.5 1V75" stroke="#d0d0d0" stroke-width="1"/><path d="M23.6 22.8H52.5V51.6H49.4V25.8H23.6z" fill="#000"/><path d="M7.1 2.4h11.8v2.4h2.4v11.8h-2.4v2.4h-11.8v-2.4h-2.4v-11.8h2.4z" fill="#f9776a"/></g><g transform="translate(1251 1399)"><rect x="0" y="0" width="76" height="76" fill="#fff"/><path d="M76 0.5H0.5V75.5H76" fill="none" stroke="#000" stroke-width="1"/><path d="M75.5 1V75" stroke="#d0d0d0" stroke-width="1"/><path d="M23.6 22.8H52.5V51.6H49.4V25.8H23.6z" fill="#000"/><path d="M21.3 52.1h11.8v2.4h2.4v11.8h-2.4v2.4h-11.8v-2.4h-2.4v-11.8h2.4z" fill="#f9776a"/></g><g transform="translate(1390 1426)"><rect x="0" y="0" width="76" height="76" fill="#fff"/><path d="M76 0.5H0.5V75.5H76" fill="none" stroke="#000" stroke-width="1"/><path d="M75.5 1V75" stroke="#d0d0d0" stroke-width="1"/><path d="M23.6 22.8H52.5V51.6H49.4V25.8H23.6z" fill="#000"/><path d="M4.7 7.1h11.8v2.4h2.4v11.8h-2.4v2.4h-11.8v-2.4h-2.4v-11.8h2.4z" fill="#f9776a"/></g><g transform="translate(1521 1444)"><rect x="0" y="0" width="76" height="76" fill="#fff"/><path d="M76 0.5H0.5V75.5H76" fill="none" stroke="#000" stroke-width="1"/><path d="M75.5 1V75" stroke="#d0d0d0" stroke-width="1"/><path d="M23.6 22.8H52.5V51.6H49.4V25.8H23.6z" fill="#000"/><path d="M4.7 2.4h11.8v2.4h2.4v11.8h-2.4v2.4h-11.8v-2.4h-2.4v-11.8h2.4z" fill="#f9776a"/></g><g transform="translate(1303 1490)"><rect x="0" y="0" width="76" height="76" fill="#fff"/><path d="M76 0.5H0.5V75.5H76" fill="none" stroke="#000" stroke-width="1"/><path d="M75.5 1V75" stroke="#d0d0d0" stroke-width="1"/><path d="M23.6 22.8H52.5V51.6H49.4V25.8H23.6z" fill="#000"/><path d="M21.3 54.5h11.8v2.4h2.4v11.8h-2.4v2.4h-11.8v-2.4h-2.4v-11.8h2.4z" fill="#f9776a"/></g><g transform="translate(1445 1519)"><rect x="0" y="0" width="76" height="76" fill="#fff"/><path d="M76 0.5H0.5V75.5H76" fill="none" stroke="#000" stroke-width="1"/><path d="M75.5 1V75" stroke="#d0d0d0" stroke-width="1"/><path d="M23.6 22.8H52.5V51.6H49.4V25.8H23.6z" fill="#000"/><path d="M4.7 4.7h11.8v2.4h2.4v11.8h-2.4v2.4h-11.8v-2.4h-2.4v-11.8h2.4z" fill="#f9776a"/></g><g transform="translate(1261 1630)"><rect x="0" y="0" width="76" height="76" fill="#fff"/><path d="M76 0.5H0.5V75.5H76" fill="none" stroke="#000" stroke-width="1"/><path d="M75.5 1V75" stroke="#d0d0d0" stroke-width="1"/><path d="M23.6 22.8H52.5V51.6H49.4V25.8H23.6z" fill="#000"/><path d="M23.7 54.5h11.8v2.4h2.4v11.8h-2.4v2.4h-11.8v-2.4h-2.4v-11.8h2.4z" fill="#f9776a"/></g><g transform="translate(1357 1581)"><rect x="0" y="0" width="76" height="76" fill="#fff"/><path d="M76 0.5H0.5V75.5H76" fill="none" stroke="#000" stroke-width="1"/><path d="M75.5 1V75" stroke="#d0d0d0" stroke-width="1"/><path d="M23.6 22.8H52.5V51.6H49.4V25.8H23.6z" fill="#000"/><path d="M21.3 54.5h11.8v2.4h2.4v11.8h-2.4v2.4h-11.8v-2.4h-2.4v-11.8h2.4z" fill="#f9776a"/></g><polygon points="1237.5,231.4 1245.6,256.2 1271.8,256.2 1250.6,271.6 1258.7,296.5 1237.5,281.1 1216.4,296.5 1224.4,271.6 1203.3,256.2 1229.4,256.2" fill="#ffff00" stroke="#000" stroke-width="2.5" stroke-linejoin="miter"/></g><rect x="220" y="200" width="1580" height="1580" fill="none" stroke="#000" stroke-width="2.2"/><path d="M378 1780V1789.7M220 1622H210.3M694 1780V1789.7M220 1306H210.3M1010 1780V1789.7M220 990H210.3M1326 1780V1789.7M220 674H210.3M1642 1780V1789.7M220 358H210.3" stroke="#000" stroke-width="2.2"/><text x="378" y="1820.6" font-size="29.5" text-anchor="middle" textLength="37.8" lengthAdjust="spacingAndGlyphs"  >&#8722;2</text><text x="198.8" y="1632" font-size="29.5" text-anchor="end" textLength="36.6" lengthAdjust="spacingAndGlyphs"  >&#8722;2</text><text x="694" y="1820.6" font-size="29.5" text-anchor="middle" textLength="37.8" lengthAdjust="spacingAndGlyphs"  >&#8722;1</text><text x="198.8" y="1316" font-size="29.5" text-anchor="end" textLength="36.6" lengthAdjust="spacingAndGlyphs"  >&#8722;1</text><text x="1010" y="1820.6" font-size="29.5" text-anchor="middle" textLength="14.6" lengthAdjust="spacingAndGlyphs"  >0</text><text x="198.8" y="1000" font-size="29.5" text-anchor="end" textLength="14.6" lengthAdjust="spacingAndGlyphs"  >0</text><text x="1326" y="1820.6" font-size="29.5" text-anchor="middle" textLength="14.6" lengthAdjust="spacingAndGlyphs"  >1</text><text x="198.8" y="684" font-size="29.5" text-anchor="end" textLength="14.6" lengthAdjust="spacingAndGlyphs"  >1</text><text x="1642" y="1820.6" font-size="29.5" text-anchor="middle" textLength="14.6" lengthAdjust="spacingAndGlyphs"  >2</text><text x="198.8" y="368" font-size="29.5" text-anchor="end" textLength="14.6" lengthAdjust="spacingAndGlyphs"  >2</text><text x="1009.8" y="1865.1" font-size="35" text-anchor="middle" textLength="321.5" lengthAdjust="spacingAndGlyphs"  >Latent Dimension 1</text><text transform="translate(141.3 990.7) rotate(-90)" x="0" y="0" font-size="35" text-anchor="middle" textLength="320.6" lengthAdjust="spacingAndGlyphs" >Latent Dimension 2</text><text x="2131.8" y="506" font-size="35" text-anchor="middle" textLength="243.6" lengthAdjust="spacingAndGlyphs"  >Context Image</text><g transform="translate(1983 523)"><rect x="0" y="0" width="297.5" height="297.5" fill="#fff" stroke="#000" stroke-width="2.2"/><path d="M93 93h111.6v111.6h-9.3v-102.3h-102.3z" fill="#000"/><path d="M102.3 158h46.5v9.3h9.3v46.5h-9.3v9.3h-46.5v-9.3h-9.3v-46.5h9.3z" fill="#fa756b"/></g><text x="2132" y="1105.6" font-size="35" text-anchor="middle" textLength="332" lengthAdjust="spacingAndGlyphs"  >Mapped Goal Image</text><text x="2131.3" y="1144" font-size="35" text-anchor="middle" textLength="339.4" lengthAdjust="spacingAndGlyphs"  >(latent = 0.72, 2.29)</text><g transform="translate(1983 1161)"><rect x="0" y="0" width="297.3" height="297.3" fill="#fff" stroke="#000" stroke-width="2.2"/><path d="M92.9 92.9h111.5v111.5h-9.3v-102.2h-102.2z" fill="#000"/><path d="M18.6 223h46.5v9.3h9.3v46.5h-9.3v9.3h-46.5v-9.3h-9.3v-46.5h9.3z" fill="#fa756b"/><rect x="241.6" y="9.3" width="9.3" height="9.3" fill="#fddcd6"/></g></svg></body></html>
